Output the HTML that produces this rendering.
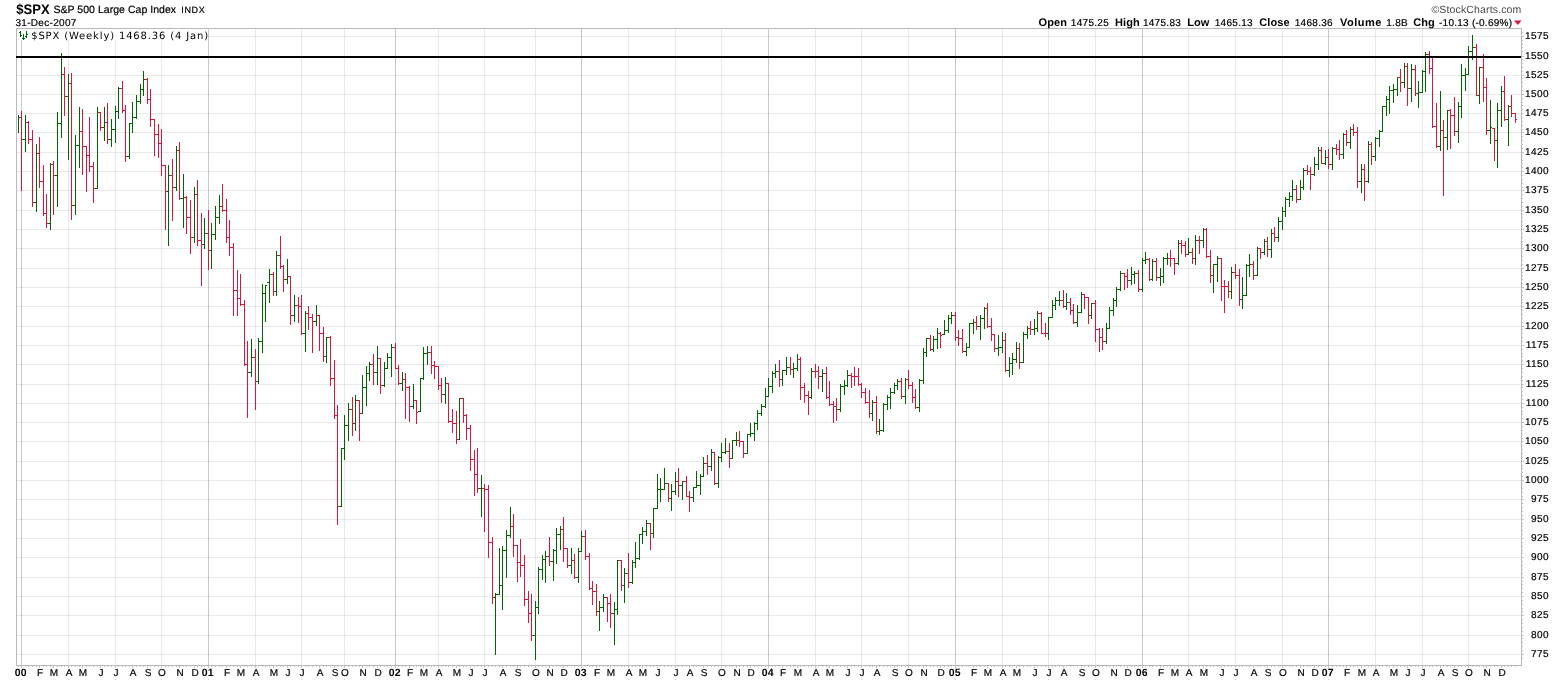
<!DOCTYPE html><html><head><meta charset="utf-8"><title>$SPX S&amp;P 500 Large Cap Index</title><style>html,body{margin:0;padding:0;background:#fff}body{width:1565px;height:681px;position:relative;overflow:hidden}</style></head><body><svg width="1565" height="681" viewBox="0 0 1565 681" style="position:absolute;left:0;top:0" shape-rendering="crispEdges"><rect x="0" y="0" width="1565" height="681" fill="#fff"/><rect x="17" y="654" width="1504" height="1" fill="#000" fill-opacity="0.085"/><rect x="17" y="635" width="1504" height="1" fill="#000" fill-opacity="0.085"/><rect x="17" y="615" width="1504" height="1" fill="#000" fill-opacity="0.085"/><rect x="17" y="596" width="1504" height="1" fill="#000" fill-opacity="0.085"/><rect x="17" y="577" width="1504" height="1" fill="#000" fill-opacity="0.085"/><rect x="17" y="557" width="1504" height="1" fill="#000" fill-opacity="0.085"/><rect x="17" y="538" width="1504" height="1" fill="#000" fill-opacity="0.085"/><rect x="17" y="519" width="1504" height="1" fill="#000" fill-opacity="0.085"/><rect x="17" y="499" width="1504" height="1" fill="#000" fill-opacity="0.085"/><rect x="17" y="480" width="1504" height="1" fill="#000" fill-opacity="0.085"/><rect x="17" y="461" width="1504" height="1" fill="#000" fill-opacity="0.085"/><rect x="17" y="441" width="1504" height="1" fill="#000" fill-opacity="0.085"/><rect x="17" y="422" width="1504" height="1" fill="#000" fill-opacity="0.085"/><rect x="17" y="403" width="1504" height="1" fill="#000" fill-opacity="0.085"/><rect x="17" y="384" width="1504" height="1" fill="#000" fill-opacity="0.085"/><rect x="17" y="364" width="1504" height="1" fill="#000" fill-opacity="0.085"/><rect x="17" y="345" width="1504" height="1" fill="#000" fill-opacity="0.085"/><rect x="17" y="326" width="1504" height="1" fill="#000" fill-opacity="0.085"/><rect x="17" y="306" width="1504" height="1" fill="#000" fill-opacity="0.085"/><rect x="17" y="287" width="1504" height="1" fill="#000" fill-opacity="0.085"/><rect x="17" y="268" width="1504" height="1" fill="#000" fill-opacity="0.085"/><rect x="17" y="248" width="1504" height="1" fill="#000" fill-opacity="0.085"/><rect x="17" y="229" width="1504" height="1" fill="#000" fill-opacity="0.085"/><rect x="17" y="210" width="1504" height="1" fill="#000" fill-opacity="0.085"/><rect x="17" y="190" width="1504" height="1" fill="#000" fill-opacity="0.085"/><rect x="17" y="171" width="1504" height="1" fill="#000" fill-opacity="0.085"/><rect x="17" y="152" width="1504" height="1" fill="#000" fill-opacity="0.085"/><rect x="17" y="132" width="1504" height="1" fill="#000" fill-opacity="0.085"/><rect x="17" y="113" width="1504" height="1" fill="#000" fill-opacity="0.085"/><rect x="17" y="94" width="1504" height="1" fill="#000" fill-opacity="0.085"/><rect x="17" y="75" width="1504" height="1" fill="#000" fill-opacity="0.085"/><rect x="17" y="56" width="1504" height="1" fill="#000" fill-opacity="0.085"/><rect x="17" y="36" width="1504" height="1" fill="#000" fill-opacity="0.085"/><rect x="21" y="29" width="1" height="636" fill="#000" fill-opacity="0.22"/><rect x="21" y="679" width="1" height="1" fill="#d8d8d8"/><rect x="68" y="29" width="1" height="636" fill="#000" fill-opacity="0.085"/><rect x="68" y="679" width="1" height="1" fill="#d8d8d8"/><rect x="115" y="29" width="1" height="636" fill="#000" fill-opacity="0.085"/><rect x="115" y="679" width="1" height="1" fill="#d8d8d8"/><rect x="161" y="29" width="1" height="636" fill="#000" fill-opacity="0.085"/><rect x="161" y="679" width="1" height="1" fill="#d8d8d8"/><rect x="208" y="29" width="1" height="636" fill="#000" fill-opacity="0.22"/><rect x="208" y="679" width="1" height="1" fill="#d8d8d8"/><rect x="255" y="29" width="1" height="636" fill="#000" fill-opacity="0.085"/><rect x="255" y="679" width="1" height="1" fill="#d8d8d8"/><rect x="301" y="29" width="1" height="636" fill="#000" fill-opacity="0.085"/><rect x="301" y="679" width="1" height="1" fill="#d8d8d8"/><rect x="344" y="29" width="1" height="636" fill="#000" fill-opacity="0.085"/><rect x="344" y="679" width="1" height="1" fill="#d8d8d8"/><rect x="395" y="29" width="1" height="636" fill="#000" fill-opacity="0.22"/><rect x="395" y="679" width="1" height="1" fill="#d8d8d8"/><rect x="438" y="29" width="1" height="636" fill="#000" fill-opacity="0.085"/><rect x="438" y="679" width="1" height="1" fill="#d8d8d8"/><rect x="484" y="29" width="1" height="636" fill="#000" fill-opacity="0.085"/><rect x="484" y="679" width="1" height="1" fill="#d8d8d8"/><rect x="535" y="29" width="1" height="636" fill="#000" fill-opacity="0.085"/><rect x="535" y="679" width="1" height="1" fill="#d8d8d8"/><rect x="581" y="29" width="1" height="636" fill="#000" fill-opacity="0.22"/><rect x="581" y="679" width="1" height="1" fill="#d8d8d8"/><rect x="628" y="29" width="1" height="636" fill="#000" fill-opacity="0.085"/><rect x="628" y="679" width="1" height="1" fill="#d8d8d8"/><rect x="675" y="29" width="1" height="636" fill="#000" fill-opacity="0.085"/><rect x="675" y="679" width="1" height="1" fill="#d8d8d8"/><rect x="721" y="29" width="1" height="636" fill="#000" fill-opacity="0.085"/><rect x="721" y="679" width="1" height="1" fill="#d8d8d8"/><rect x="768" y="29" width="1" height="636" fill="#000" fill-opacity="0.22"/><rect x="768" y="679" width="1" height="1" fill="#d8d8d8"/><rect x="815" y="29" width="1" height="636" fill="#000" fill-opacity="0.085"/><rect x="815" y="679" width="1" height="1" fill="#d8d8d8"/><rect x="861" y="29" width="1" height="636" fill="#000" fill-opacity="0.085"/><rect x="861" y="679" width="1" height="1" fill="#d8d8d8"/><rect x="908" y="29" width="1" height="636" fill="#000" fill-opacity="0.085"/><rect x="908" y="679" width="1" height="1" fill="#d8d8d8"/><rect x="955" y="29" width="1" height="636" fill="#000" fill-opacity="0.22"/><rect x="955" y="679" width="1" height="1" fill="#d8d8d8"/><rect x="1002" y="29" width="1" height="636" fill="#000" fill-opacity="0.085"/><rect x="1002" y="679" width="1" height="1" fill="#d8d8d8"/><rect x="1048" y="29" width="1" height="636" fill="#000" fill-opacity="0.085"/><rect x="1048" y="679" width="1" height="1" fill="#d8d8d8"/><rect x="1095" y="29" width="1" height="636" fill="#000" fill-opacity="0.085"/><rect x="1095" y="679" width="1" height="1" fill="#d8d8d8"/><rect x="1142" y="29" width="1" height="636" fill="#000" fill-opacity="0.22"/><rect x="1142" y="679" width="1" height="1" fill="#d8d8d8"/><rect x="1188" y="29" width="1" height="636" fill="#000" fill-opacity="0.085"/><rect x="1188" y="679" width="1" height="1" fill="#d8d8d8"/><rect x="1235" y="29" width="1" height="636" fill="#000" fill-opacity="0.085"/><rect x="1235" y="679" width="1" height="1" fill="#d8d8d8"/><rect x="1282" y="29" width="1" height="636" fill="#000" fill-opacity="0.085"/><rect x="1282" y="679" width="1" height="1" fill="#d8d8d8"/><rect x="1328" y="29" width="1" height="636" fill="#000" fill-opacity="0.22"/><rect x="1328" y="679" width="1" height="1" fill="#d8d8d8"/><rect x="1375" y="29" width="1" height="636" fill="#000" fill-opacity="0.085"/><rect x="1375" y="679" width="1" height="1" fill="#d8d8d8"/><rect x="1422" y="29" width="1" height="636" fill="#000" fill-opacity="0.085"/><rect x="1422" y="679" width="1" height="1" fill="#d8d8d8"/><rect x="1468" y="29" width="1" height="636" fill="#000" fill-opacity="0.085"/><rect x="1468" y="679" width="1" height="1" fill="#d8d8d8"/><rect x="17" y="29" width="191" height="11" fill="#fff"/><rect x="16" y="28" width="1506" height="1" fill="#b8b8b8"/><rect x="16" y="665" width="1506" height="1" fill="#b8b8b8"/><rect x="16" y="28" width="1" height="638" fill="#b8b8b8"/><rect x="1521" y="28" width="1" height="638" fill="#b8b8b8"/><rect x="1522" y="658" width="1" height="1" fill="#c4c4c4"/><rect x="1522" y="654" width="2" height="1" fill="#c4c4c4"/><rect x="1522" y="650" width="1" height="1" fill="#c4c4c4"/><rect x="1522" y="646" width="1" height="1" fill="#c4c4c4"/><rect x="1522" y="642" width="1" height="1" fill="#c4c4c4"/><rect x="1522" y="638" width="1" height="1" fill="#c4c4c4"/><rect x="1522" y="635" width="2" height="1" fill="#c4c4c4"/><rect x="1522" y="631" width="1" height="1" fill="#c4c4c4"/><rect x="1522" y="627" width="1" height="1" fill="#c4c4c4"/><rect x="1522" y="623" width="1" height="1" fill="#c4c4c4"/><rect x="1522" y="619" width="1" height="1" fill="#c4c4c4"/><rect x="1522" y="615" width="2" height="1" fill="#c4c4c4"/><rect x="1522" y="611" width="1" height="1" fill="#c4c4c4"/><rect x="1522" y="608" width="1" height="1" fill="#c4c4c4"/><rect x="1522" y="604" width="1" height="1" fill="#c4c4c4"/><rect x="1522" y="600" width="1" height="1" fill="#c4c4c4"/><rect x="1522" y="596" width="2" height="1" fill="#c4c4c4"/><rect x="1522" y="592" width="1" height="1" fill="#c4c4c4"/><rect x="1522" y="588" width="1" height="1" fill="#c4c4c4"/><rect x="1522" y="584" width="1" height="1" fill="#c4c4c4"/><rect x="1522" y="581" width="1" height="1" fill="#c4c4c4"/><rect x="1522" y="577" width="2" height="1" fill="#c4c4c4"/><rect x="1522" y="573" width="1" height="1" fill="#c4c4c4"/><rect x="1522" y="569" width="1" height="1" fill="#c4c4c4"/><rect x="1522" y="565" width="1" height="1" fill="#c4c4c4"/><rect x="1522" y="561" width="1" height="1" fill="#c4c4c4"/><rect x="1522" y="557" width="2" height="1" fill="#c4c4c4"/><rect x="1522" y="553" width="1" height="1" fill="#c4c4c4"/><rect x="1522" y="550" width="1" height="1" fill="#c4c4c4"/><rect x="1522" y="546" width="1" height="1" fill="#c4c4c4"/><rect x="1522" y="542" width="1" height="1" fill="#c4c4c4"/><rect x="1522" y="538" width="2" height="1" fill="#c4c4c4"/><rect x="1522" y="534" width="1" height="1" fill="#c4c4c4"/><rect x="1522" y="530" width="1" height="1" fill="#c4c4c4"/><rect x="1522" y="526" width="1" height="1" fill="#c4c4c4"/><rect x="1522" y="523" width="1" height="1" fill="#c4c4c4"/><rect x="1522" y="519" width="2" height="1" fill="#c4c4c4"/><rect x="1522" y="515" width="1" height="1" fill="#c4c4c4"/><rect x="1522" y="511" width="1" height="1" fill="#c4c4c4"/><rect x="1522" y="507" width="1" height="1" fill="#c4c4c4"/><rect x="1522" y="503" width="1" height="1" fill="#c4c4c4"/><rect x="1522" y="499" width="2" height="1" fill="#c4c4c4"/><rect x="1522" y="496" width="1" height="1" fill="#c4c4c4"/><rect x="1522" y="492" width="1" height="1" fill="#c4c4c4"/><rect x="1522" y="488" width="1" height="1" fill="#c4c4c4"/><rect x="1522" y="484" width="1" height="1" fill="#c4c4c4"/><rect x="1522" y="480" width="2" height="1" fill="#c4c4c4"/><rect x="1522" y="476" width="1" height="1" fill="#c4c4c4"/><rect x="1522" y="472" width="1" height="1" fill="#c4c4c4"/><rect x="1522" y="468" width="1" height="1" fill="#c4c4c4"/><rect x="1522" y="465" width="1" height="1" fill="#c4c4c4"/><rect x="1522" y="461" width="2" height="1" fill="#c4c4c4"/><rect x="1522" y="457" width="1" height="1" fill="#c4c4c4"/><rect x="1522" y="453" width="1" height="1" fill="#c4c4c4"/><rect x="1522" y="449" width="1" height="1" fill="#c4c4c4"/><rect x="1522" y="445" width="1" height="1" fill="#c4c4c4"/><rect x="1522" y="441" width="2" height="1" fill="#c4c4c4"/><rect x="1522" y="438" width="1" height="1" fill="#c4c4c4"/><rect x="1522" y="434" width="1" height="1" fill="#c4c4c4"/><rect x="1522" y="430" width="1" height="1" fill="#c4c4c4"/><rect x="1522" y="426" width="1" height="1" fill="#c4c4c4"/><rect x="1522" y="422" width="2" height="1" fill="#c4c4c4"/><rect x="1522" y="418" width="1" height="1" fill="#c4c4c4"/><rect x="1522" y="414" width="1" height="1" fill="#c4c4c4"/><rect x="1522" y="411" width="1" height="1" fill="#c4c4c4"/><rect x="1522" y="407" width="1" height="1" fill="#c4c4c4"/><rect x="1522" y="403" width="2" height="1" fill="#c4c4c4"/><rect x="1522" y="399" width="1" height="1" fill="#c4c4c4"/><rect x="1522" y="395" width="1" height="1" fill="#c4c4c4"/><rect x="1522" y="391" width="1" height="1" fill="#c4c4c4"/><rect x="1522" y="387" width="1" height="1" fill="#c4c4c4"/><rect x="1522" y="384" width="2" height="1" fill="#c4c4c4"/><rect x="1522" y="380" width="1" height="1" fill="#c4c4c4"/><rect x="1522" y="376" width="1" height="1" fill="#c4c4c4"/><rect x="1522" y="372" width="1" height="1" fill="#c4c4c4"/><rect x="1522" y="368" width="1" height="1" fill="#c4c4c4"/><rect x="1522" y="364" width="2" height="1" fill="#c4c4c4"/><rect x="1522" y="360" width="1" height="1" fill="#c4c4c4"/><rect x="1522" y="356" width="1" height="1" fill="#c4c4c4"/><rect x="1522" y="353" width="1" height="1" fill="#c4c4c4"/><rect x="1522" y="349" width="1" height="1" fill="#c4c4c4"/><rect x="1522" y="345" width="2" height="1" fill="#c4c4c4"/><rect x="1522" y="341" width="1" height="1" fill="#c4c4c4"/><rect x="1522" y="337" width="1" height="1" fill="#c4c4c4"/><rect x="1522" y="333" width="1" height="1" fill="#c4c4c4"/><rect x="1522" y="329" width="1" height="1" fill="#c4c4c4"/><rect x="1522" y="326" width="2" height="1" fill="#c4c4c4"/><rect x="1522" y="322" width="1" height="1" fill="#c4c4c4"/><rect x="1522" y="318" width="1" height="1" fill="#c4c4c4"/><rect x="1522" y="314" width="1" height="1" fill="#c4c4c4"/><rect x="1522" y="310" width="1" height="1" fill="#c4c4c4"/><rect x="1522" y="306" width="2" height="1" fill="#c4c4c4"/><rect x="1522" y="302" width="1" height="1" fill="#c4c4c4"/><rect x="1522" y="299" width="1" height="1" fill="#c4c4c4"/><rect x="1522" y="295" width="1" height="1" fill="#c4c4c4"/><rect x="1522" y="291" width="1" height="1" fill="#c4c4c4"/><rect x="1522" y="287" width="2" height="1" fill="#c4c4c4"/><rect x="1522" y="283" width="1" height="1" fill="#c4c4c4"/><rect x="1522" y="279" width="1" height="1" fill="#c4c4c4"/><rect x="1522" y="275" width="1" height="1" fill="#c4c4c4"/><rect x="1522" y="272" width="1" height="1" fill="#c4c4c4"/><rect x="1522" y="268" width="2" height="1" fill="#c4c4c4"/><rect x="1522" y="264" width="1" height="1" fill="#c4c4c4"/><rect x="1522" y="260" width="1" height="1" fill="#c4c4c4"/><rect x="1522" y="256" width="1" height="1" fill="#c4c4c4"/><rect x="1522" y="252" width="1" height="1" fill="#c4c4c4"/><rect x="1522" y="248" width="2" height="1" fill="#c4c4c4"/><rect x="1522" y="244" width="1" height="1" fill="#c4c4c4"/><rect x="1522" y="241" width="1" height="1" fill="#c4c4c4"/><rect x="1522" y="237" width="1" height="1" fill="#c4c4c4"/><rect x="1522" y="233" width="1" height="1" fill="#c4c4c4"/><rect x="1522" y="229" width="2" height="1" fill="#c4c4c4"/><rect x="1522" y="225" width="1" height="1" fill="#c4c4c4"/><rect x="1522" y="221" width="1" height="1" fill="#c4c4c4"/><rect x="1522" y="217" width="1" height="1" fill="#c4c4c4"/><rect x="1522" y="214" width="1" height="1" fill="#c4c4c4"/><rect x="1522" y="210" width="2" height="1" fill="#c4c4c4"/><rect x="1522" y="206" width="1" height="1" fill="#c4c4c4"/><rect x="1522" y="202" width="1" height="1" fill="#c4c4c4"/><rect x="1522" y="198" width="1" height="1" fill="#c4c4c4"/><rect x="1522" y="194" width="1" height="1" fill="#c4c4c4"/><rect x="1522" y="190" width="2" height="1" fill="#c4c4c4"/><rect x="1522" y="187" width="1" height="1" fill="#c4c4c4"/><rect x="1522" y="183" width="1" height="1" fill="#c4c4c4"/><rect x="1522" y="179" width="1" height="1" fill="#c4c4c4"/><rect x="1522" y="175" width="1" height="1" fill="#c4c4c4"/><rect x="1522" y="171" width="2" height="1" fill="#c4c4c4"/><rect x="1522" y="167" width="1" height="1" fill="#c4c4c4"/><rect x="1522" y="163" width="1" height="1" fill="#c4c4c4"/><rect x="1522" y="160" width="1" height="1" fill="#c4c4c4"/><rect x="1522" y="156" width="1" height="1" fill="#c4c4c4"/><rect x="1522" y="152" width="2" height="1" fill="#c4c4c4"/><rect x="1522" y="148" width="1" height="1" fill="#c4c4c4"/><rect x="1522" y="144" width="1" height="1" fill="#c4c4c4"/><rect x="1522" y="140" width="1" height="1" fill="#c4c4c4"/><rect x="1522" y="136" width="1" height="1" fill="#c4c4c4"/><rect x="1522" y="132" width="2" height="1" fill="#c4c4c4"/><rect x="1522" y="129" width="1" height="1" fill="#c4c4c4"/><rect x="1522" y="125" width="1" height="1" fill="#c4c4c4"/><rect x="1522" y="121" width="1" height="1" fill="#c4c4c4"/><rect x="1522" y="117" width="1" height="1" fill="#c4c4c4"/><rect x="1522" y="113" width="2" height="1" fill="#c4c4c4"/><rect x="1522" y="109" width="1" height="1" fill="#c4c4c4"/><rect x="1522" y="105" width="1" height="1" fill="#c4c4c4"/><rect x="1522" y="102" width="1" height="1" fill="#c4c4c4"/><rect x="1522" y="98" width="1" height="1" fill="#c4c4c4"/><rect x="1522" y="94" width="2" height="1" fill="#c4c4c4"/><rect x="1522" y="90" width="1" height="1" fill="#c4c4c4"/><rect x="1522" y="86" width="1" height="1" fill="#c4c4c4"/><rect x="1522" y="82" width="1" height="1" fill="#c4c4c4"/><rect x="1522" y="78" width="1" height="1" fill="#c4c4c4"/><rect x="1522" y="75" width="2" height="1" fill="#c4c4c4"/><rect x="1522" y="71" width="1" height="1" fill="#c4c4c4"/><rect x="1522" y="67" width="1" height="1" fill="#c4c4c4"/><rect x="1522" y="63" width="1" height="1" fill="#c4c4c4"/><rect x="1522" y="59" width="1" height="1" fill="#c4c4c4"/><rect x="1522" y="56" width="2" height="1" fill="#c4c4c4"/><rect x="1522" y="51" width="1" height="1" fill="#c4c4c4"/><rect x="1522" y="47" width="1" height="1" fill="#c4c4c4"/><rect x="1522" y="44" width="1" height="1" fill="#c4c4c4"/><rect x="1522" y="40" width="1" height="1" fill="#c4c4c4"/><rect x="1522" y="36" width="2" height="1" fill="#c4c4c4"/><rect x="1522" y="32" width="1" height="1" fill="#c4c4c4"/><rect x="18" y="666" width="1" height="1" fill="#c4c4c4"/><rect x="21" y="666" width="1" height="2" fill="#c4c4c4"/><rect x="25" y="666" width="1" height="1" fill="#c4c4c4"/><rect x="28" y="666" width="1" height="1" fill="#c4c4c4"/><rect x="32" y="666" width="1" height="1" fill="#c4c4c4"/><rect x="36" y="666" width="1" height="1" fill="#c4c4c4"/><rect x="39" y="666" width="1" height="2" fill="#c4c4c4"/><rect x="43" y="666" width="1" height="1" fill="#c4c4c4"/><rect x="46" y="666" width="1" height="1" fill="#c4c4c4"/><rect x="50" y="666" width="1" height="1" fill="#c4c4c4"/><rect x="53" y="666" width="1" height="2" fill="#c4c4c4"/><rect x="57" y="666" width="1" height="1" fill="#c4c4c4"/><rect x="61" y="666" width="1" height="1" fill="#c4c4c4"/><rect x="64" y="666" width="1" height="1" fill="#c4c4c4"/><rect x="68" y="666" width="1" height="2" fill="#c4c4c4"/><rect x="71" y="666" width="1" height="1" fill="#c4c4c4"/><rect x="75" y="666" width="1" height="1" fill="#c4c4c4"/><rect x="79" y="666" width="1" height="1" fill="#c4c4c4"/><rect x="82" y="666" width="1" height="2" fill="#c4c4c4"/><rect x="86" y="666" width="1" height="1" fill="#c4c4c4"/><rect x="89" y="666" width="1" height="1" fill="#c4c4c4"/><rect x="93" y="666" width="1" height="1" fill="#c4c4c4"/><rect x="97" y="666" width="1" height="1" fill="#c4c4c4"/><rect x="100" y="666" width="1" height="2" fill="#c4c4c4"/><rect x="104" y="666" width="1" height="1" fill="#c4c4c4"/><rect x="107" y="666" width="1" height="1" fill="#c4c4c4"/><rect x="111" y="666" width="1" height="1" fill="#c4c4c4"/><rect x="115" y="666" width="1" height="2" fill="#c4c4c4"/><rect x="118" y="666" width="1" height="1" fill="#c4c4c4"/><rect x="122" y="666" width="1" height="1" fill="#c4c4c4"/><rect x="125" y="666" width="1" height="1" fill="#c4c4c4"/><rect x="129" y="666" width="1" height="1" fill="#c4c4c4"/><rect x="132" y="666" width="1" height="2" fill="#c4c4c4"/><rect x="136" y="666" width="1" height="1" fill="#c4c4c4"/><rect x="140" y="666" width="1" height="1" fill="#c4c4c4"/><rect x="143" y="666" width="1" height="1" fill="#c4c4c4"/><rect x="147" y="666" width="1" height="2" fill="#c4c4c4"/><rect x="150" y="666" width="1" height="1" fill="#c4c4c4"/><rect x="154" y="666" width="1" height="1" fill="#c4c4c4"/><rect x="158" y="666" width="1" height="1" fill="#c4c4c4"/><rect x="161" y="666" width="1" height="2" fill="#c4c4c4"/><rect x="165" y="666" width="1" height="1" fill="#c4c4c4"/><rect x="168" y="666" width="1" height="1" fill="#c4c4c4"/><rect x="172" y="666" width="1" height="1" fill="#c4c4c4"/><rect x="176" y="666" width="1" height="1" fill="#c4c4c4"/><rect x="179" y="666" width="1" height="2" fill="#c4c4c4"/><rect x="183" y="666" width="1" height="1" fill="#c4c4c4"/><rect x="186" y="666" width="1" height="1" fill="#c4c4c4"/><rect x="190" y="666" width="1" height="1" fill="#c4c4c4"/><rect x="194" y="666" width="1" height="2" fill="#c4c4c4"/><rect x="197" y="666" width="1" height="1" fill="#c4c4c4"/><rect x="201" y="666" width="1" height="1" fill="#c4c4c4"/><rect x="204" y="666" width="1" height="1" fill="#c4c4c4"/><rect x="208" y="666" width="1" height="2" fill="#c4c4c4"/><rect x="211" y="666" width="1" height="1" fill="#c4c4c4"/><rect x="215" y="666" width="1" height="1" fill="#c4c4c4"/><rect x="219" y="666" width="1" height="1" fill="#c4c4c4"/><rect x="222" y="666" width="1" height="1" fill="#c4c4c4"/><rect x="226" y="666" width="1" height="2" fill="#c4c4c4"/><rect x="229" y="666" width="1" height="1" fill="#c4c4c4"/><rect x="233" y="666" width="1" height="1" fill="#c4c4c4"/><rect x="237" y="666" width="1" height="1" fill="#c4c4c4"/><rect x="240" y="666" width="1" height="2" fill="#c4c4c4"/><rect x="244" y="666" width="1" height="1" fill="#c4c4c4"/><rect x="247" y="666" width="1" height="1" fill="#c4c4c4"/><rect x="251" y="666" width="1" height="1" fill="#c4c4c4"/><rect x="255" y="666" width="1" height="2" fill="#c4c4c4"/><rect x="258" y="666" width="1" height="1" fill="#c4c4c4"/><rect x="262" y="666" width="1" height="1" fill="#c4c4c4"/><rect x="265" y="666" width="1" height="1" fill="#c4c4c4"/><rect x="269" y="666" width="1" height="1" fill="#c4c4c4"/><rect x="273" y="666" width="1" height="2" fill="#c4c4c4"/><rect x="276" y="666" width="1" height="1" fill="#c4c4c4"/><rect x="280" y="666" width="1" height="1" fill="#c4c4c4"/><rect x="283" y="666" width="1" height="1" fill="#c4c4c4"/><rect x="287" y="666" width="1" height="2" fill="#c4c4c4"/><rect x="290" y="666" width="1" height="1" fill="#c4c4c4"/><rect x="294" y="666" width="1" height="1" fill="#c4c4c4"/><rect x="298" y="666" width="1" height="1" fill="#c4c4c4"/><rect x="301" y="666" width="1" height="2" fill="#c4c4c4"/><rect x="305" y="666" width="1" height="1" fill="#c4c4c4"/><rect x="308" y="666" width="1" height="1" fill="#c4c4c4"/><rect x="312" y="666" width="1" height="1" fill="#c4c4c4"/><rect x="316" y="666" width="1" height="1" fill="#c4c4c4"/><rect x="319" y="666" width="1" height="2" fill="#c4c4c4"/><rect x="323" y="666" width="1" height="1" fill="#c4c4c4"/><rect x="326" y="666" width="1" height="1" fill="#c4c4c4"/><rect x="330" y="666" width="1" height="1" fill="#c4c4c4"/><rect x="334" y="666" width="1" height="2" fill="#c4c4c4"/><rect x="337" y="666" width="1" height="1" fill="#c4c4c4"/><rect x="341" y="666" width="1" height="1" fill="#c4c4c4"/><rect x="344" y="666" width="1" height="2" fill="#c4c4c4"/><rect x="348" y="666" width="1" height="1" fill="#c4c4c4"/><rect x="352" y="666" width="1" height="1" fill="#c4c4c4"/><rect x="355" y="666" width="1" height="1" fill="#c4c4c4"/><rect x="359" y="666" width="1" height="1" fill="#c4c4c4"/><rect x="362" y="666" width="1" height="2" fill="#c4c4c4"/><rect x="366" y="666" width="1" height="1" fill="#c4c4c4"/><rect x="369" y="666" width="1" height="1" fill="#c4c4c4"/><rect x="373" y="666" width="1" height="1" fill="#c4c4c4"/><rect x="377" y="666" width="1" height="2" fill="#c4c4c4"/><rect x="380" y="666" width="1" height="1" fill="#c4c4c4"/><rect x="384" y="666" width="1" height="1" fill="#c4c4c4"/><rect x="387" y="666" width="1" height="1" fill="#c4c4c4"/><rect x="391" y="666" width="1" height="1" fill="#c4c4c4"/><rect x="395" y="666" width="1" height="2" fill="#c4c4c4"/><rect x="398" y="666" width="1" height="1" fill="#c4c4c4"/><rect x="402" y="666" width="1" height="1" fill="#c4c4c4"/><rect x="405" y="666" width="1" height="1" fill="#c4c4c4"/><rect x="409" y="666" width="1" height="2" fill="#c4c4c4"/><rect x="413" y="666" width="1" height="1" fill="#c4c4c4"/><rect x="416" y="666" width="1" height="1" fill="#c4c4c4"/><rect x="420" y="666" width="1" height="1" fill="#c4c4c4"/><rect x="423" y="666" width="1" height="2" fill="#c4c4c4"/><rect x="427" y="666" width="1" height="1" fill="#c4c4c4"/><rect x="431" y="666" width="1" height="1" fill="#c4c4c4"/><rect x="434" y="666" width="1" height="1" fill="#c4c4c4"/><rect x="438" y="666" width="1" height="2" fill="#c4c4c4"/><rect x="441" y="666" width="1" height="1" fill="#c4c4c4"/><rect x="445" y="666" width="1" height="1" fill="#c4c4c4"/><rect x="448" y="666" width="1" height="1" fill="#c4c4c4"/><rect x="452" y="666" width="1" height="1" fill="#c4c4c4"/><rect x="456" y="666" width="1" height="2" fill="#c4c4c4"/><rect x="459" y="666" width="1" height="1" fill="#c4c4c4"/><rect x="463" y="666" width="1" height="1" fill="#c4c4c4"/><rect x="466" y="666" width="1" height="1" fill="#c4c4c4"/><rect x="470" y="666" width="1" height="2" fill="#c4c4c4"/><rect x="474" y="666" width="1" height="1" fill="#c4c4c4"/><rect x="477" y="666" width="1" height="1" fill="#c4c4c4"/><rect x="481" y="666" width="1" height="1" fill="#c4c4c4"/><rect x="484" y="666" width="1" height="2" fill="#c4c4c4"/><rect x="488" y="666" width="1" height="1" fill="#c4c4c4"/><rect x="492" y="666" width="1" height="1" fill="#c4c4c4"/><rect x="495" y="666" width="1" height="1" fill="#c4c4c4"/><rect x="499" y="666" width="1" height="1" fill="#c4c4c4"/><rect x="502" y="666" width="1" height="2" fill="#c4c4c4"/><rect x="506" y="666" width="1" height="1" fill="#c4c4c4"/><rect x="510" y="666" width="1" height="1" fill="#c4c4c4"/><rect x="513" y="666" width="1" height="1" fill="#c4c4c4"/><rect x="517" y="666" width="1" height="2" fill="#c4c4c4"/><rect x="520" y="666" width="1" height="1" fill="#c4c4c4"/><rect x="524" y="666" width="1" height="1" fill="#c4c4c4"/><rect x="528" y="666" width="1" height="1" fill="#c4c4c4"/><rect x="531" y="666" width="1" height="1" fill="#c4c4c4"/><rect x="535" y="666" width="1" height="2" fill="#c4c4c4"/><rect x="538" y="666" width="1" height="1" fill="#c4c4c4"/><rect x="542" y="666" width="1" height="1" fill="#c4c4c4"/><rect x="545" y="666" width="1" height="1" fill="#c4c4c4"/><rect x="549" y="666" width="1" height="2" fill="#c4c4c4"/><rect x="553" y="666" width="1" height="1" fill="#c4c4c4"/><rect x="556" y="666" width="1" height="1" fill="#c4c4c4"/><rect x="560" y="666" width="1" height="1" fill="#c4c4c4"/><rect x="563" y="666" width="1" height="2" fill="#c4c4c4"/><rect x="567" y="666" width="1" height="1" fill="#c4c4c4"/><rect x="571" y="666" width="1" height="1" fill="#c4c4c4"/><rect x="574" y="666" width="1" height="1" fill="#c4c4c4"/><rect x="578" y="666" width="1" height="1" fill="#c4c4c4"/><rect x="581" y="666" width="1" height="2" fill="#c4c4c4"/><rect x="585" y="666" width="1" height="1" fill="#c4c4c4"/><rect x="589" y="666" width="1" height="1" fill="#c4c4c4"/><rect x="592" y="666" width="1" height="1" fill="#c4c4c4"/><rect x="596" y="666" width="1" height="2" fill="#c4c4c4"/><rect x="599" y="666" width="1" height="1" fill="#c4c4c4"/><rect x="603" y="666" width="1" height="1" fill="#c4c4c4"/><rect x="607" y="666" width="1" height="1" fill="#c4c4c4"/><rect x="610" y="666" width="1" height="2" fill="#c4c4c4"/><rect x="614" y="666" width="1" height="1" fill="#c4c4c4"/><rect x="617" y="666" width="1" height="1" fill="#c4c4c4"/><rect x="621" y="666" width="1" height="1" fill="#c4c4c4"/><rect x="624" y="666" width="1" height="1" fill="#c4c4c4"/><rect x="628" y="666" width="1" height="2" fill="#c4c4c4"/><rect x="632" y="666" width="1" height="1" fill="#c4c4c4"/><rect x="635" y="666" width="1" height="1" fill="#c4c4c4"/><rect x="639" y="666" width="1" height="1" fill="#c4c4c4"/><rect x="642" y="666" width="1" height="2" fill="#c4c4c4"/><rect x="646" y="666" width="1" height="1" fill="#c4c4c4"/><rect x="650" y="666" width="1" height="1" fill="#c4c4c4"/><rect x="653" y="666" width="1" height="1" fill="#c4c4c4"/><rect x="657" y="666" width="1" height="2" fill="#c4c4c4"/><rect x="660" y="666" width="1" height="1" fill="#c4c4c4"/><rect x="664" y="666" width="1" height="1" fill="#c4c4c4"/><rect x="668" y="666" width="1" height="1" fill="#c4c4c4"/><rect x="671" y="666" width="1" height="1" fill="#c4c4c4"/><rect x="675" y="666" width="1" height="2" fill="#c4c4c4"/><rect x="678" y="666" width="1" height="1" fill="#c4c4c4"/><rect x="682" y="666" width="1" height="1" fill="#c4c4c4"/><rect x="686" y="666" width="1" height="1" fill="#c4c4c4"/><rect x="689" y="666" width="1" height="2" fill="#c4c4c4"/><rect x="693" y="666" width="1" height="1" fill="#c4c4c4"/><rect x="696" y="666" width="1" height="1" fill="#c4c4c4"/><rect x="700" y="666" width="1" height="1" fill="#c4c4c4"/><rect x="703" y="666" width="1" height="2" fill="#c4c4c4"/><rect x="707" y="666" width="1" height="1" fill="#c4c4c4"/><rect x="711" y="666" width="1" height="1" fill="#c4c4c4"/><rect x="714" y="666" width="1" height="1" fill="#c4c4c4"/><rect x="718" y="666" width="1" height="1" fill="#c4c4c4"/><rect x="721" y="666" width="1" height="2" fill="#c4c4c4"/><rect x="725" y="666" width="1" height="1" fill="#c4c4c4"/><rect x="729" y="666" width="1" height="1" fill="#c4c4c4"/><rect x="732" y="666" width="1" height="1" fill="#c4c4c4"/><rect x="736" y="666" width="1" height="2" fill="#c4c4c4"/><rect x="739" y="666" width="1" height="1" fill="#c4c4c4"/><rect x="743" y="666" width="1" height="1" fill="#c4c4c4"/><rect x="747" y="666" width="1" height="1" fill="#c4c4c4"/><rect x="750" y="666" width="1" height="2" fill="#c4c4c4"/><rect x="754" y="666" width="1" height="1" fill="#c4c4c4"/><rect x="757" y="666" width="1" height="1" fill="#c4c4c4"/><rect x="761" y="666" width="1" height="1" fill="#c4c4c4"/><rect x="765" y="666" width="1" height="1" fill="#c4c4c4"/><rect x="768" y="666" width="1" height="2" fill="#c4c4c4"/><rect x="772" y="666" width="1" height="1" fill="#c4c4c4"/><rect x="775" y="666" width="1" height="1" fill="#c4c4c4"/><rect x="779" y="666" width="1" height="1" fill="#c4c4c4"/><rect x="782" y="666" width="1" height="2" fill="#c4c4c4"/><rect x="786" y="666" width="1" height="1" fill="#c4c4c4"/><rect x="790" y="666" width="1" height="1" fill="#c4c4c4"/><rect x="793" y="666" width="1" height="1" fill="#c4c4c4"/><rect x="797" y="666" width="1" height="2" fill="#c4c4c4"/><rect x="800" y="666" width="1" height="1" fill="#c4c4c4"/><rect x="804" y="666" width="1" height="1" fill="#c4c4c4"/><rect x="808" y="666" width="1" height="1" fill="#c4c4c4"/><rect x="811" y="666" width="1" height="1" fill="#c4c4c4"/><rect x="815" y="666" width="1" height="2" fill="#c4c4c4"/><rect x="818" y="666" width="1" height="1" fill="#c4c4c4"/><rect x="822" y="666" width="1" height="1" fill="#c4c4c4"/><rect x="826" y="666" width="1" height="1" fill="#c4c4c4"/><rect x="829" y="666" width="1" height="2" fill="#c4c4c4"/><rect x="833" y="666" width="1" height="1" fill="#c4c4c4"/><rect x="836" y="666" width="1" height="1" fill="#c4c4c4"/><rect x="840" y="666" width="1" height="1" fill="#c4c4c4"/><rect x="844" y="666" width="1" height="1" fill="#c4c4c4"/><rect x="847" y="666" width="1" height="2" fill="#c4c4c4"/><rect x="851" y="666" width="1" height="1" fill="#c4c4c4"/><rect x="854" y="666" width="1" height="1" fill="#c4c4c4"/><rect x="858" y="666" width="1" height="1" fill="#c4c4c4"/><rect x="861" y="666" width="1" height="2" fill="#c4c4c4"/><rect x="865" y="666" width="1" height="1" fill="#c4c4c4"/><rect x="869" y="666" width="1" height="1" fill="#c4c4c4"/><rect x="872" y="666" width="1" height="1" fill="#c4c4c4"/><rect x="876" y="666" width="1" height="2" fill="#c4c4c4"/><rect x="879" y="666" width="1" height="1" fill="#c4c4c4"/><rect x="883" y="666" width="1" height="1" fill="#c4c4c4"/><rect x="887" y="666" width="1" height="1" fill="#c4c4c4"/><rect x="890" y="666" width="1" height="1" fill="#c4c4c4"/><rect x="894" y="666" width="1" height="2" fill="#c4c4c4"/><rect x="897" y="666" width="1" height="1" fill="#c4c4c4"/><rect x="901" y="666" width="1" height="1" fill="#c4c4c4"/><rect x="905" y="666" width="1" height="1" fill="#c4c4c4"/><rect x="908" y="666" width="1" height="2" fill="#c4c4c4"/><rect x="912" y="666" width="1" height="1" fill="#c4c4c4"/><rect x="915" y="666" width="1" height="1" fill="#c4c4c4"/><rect x="919" y="666" width="1" height="1" fill="#c4c4c4"/><rect x="923" y="666" width="1" height="2" fill="#c4c4c4"/><rect x="926" y="666" width="1" height="1" fill="#c4c4c4"/><rect x="930" y="666" width="1" height="1" fill="#c4c4c4"/><rect x="933" y="666" width="1" height="1" fill="#c4c4c4"/><rect x="937" y="666" width="1" height="1" fill="#c4c4c4"/><rect x="940" y="666" width="1" height="2" fill="#c4c4c4"/><rect x="944" y="666" width="1" height="1" fill="#c4c4c4"/><rect x="948" y="666" width="1" height="1" fill="#c4c4c4"/><rect x="951" y="666" width="1" height="1" fill="#c4c4c4"/><rect x="955" y="666" width="1" height="2" fill="#c4c4c4"/><rect x="958" y="666" width="1" height="1" fill="#c4c4c4"/><rect x="962" y="666" width="1" height="1" fill="#c4c4c4"/><rect x="966" y="666" width="1" height="1" fill="#c4c4c4"/><rect x="969" y="666" width="1" height="1" fill="#c4c4c4"/><rect x="973" y="666" width="1" height="2" fill="#c4c4c4"/><rect x="976" y="666" width="1" height="1" fill="#c4c4c4"/><rect x="980" y="666" width="1" height="1" fill="#c4c4c4"/><rect x="984" y="666" width="1" height="1" fill="#c4c4c4"/><rect x="987" y="666" width="1" height="2" fill="#c4c4c4"/><rect x="991" y="666" width="1" height="1" fill="#c4c4c4"/><rect x="994" y="666" width="1" height="1" fill="#c4c4c4"/><rect x="998" y="666" width="1" height="1" fill="#c4c4c4"/><rect x="1002" y="666" width="1" height="2" fill="#c4c4c4"/><rect x="1005" y="666" width="1" height="1" fill="#c4c4c4"/><rect x="1009" y="666" width="1" height="1" fill="#c4c4c4"/><rect x="1012" y="666" width="1" height="1" fill="#c4c4c4"/><rect x="1016" y="666" width="1" height="2" fill="#c4c4c4"/><rect x="1019" y="666" width="1" height="1" fill="#c4c4c4"/><rect x="1023" y="666" width="1" height="1" fill="#c4c4c4"/><rect x="1027" y="666" width="1" height="1" fill="#c4c4c4"/><rect x="1030" y="666" width="1" height="1" fill="#c4c4c4"/><rect x="1034" y="666" width="1" height="2" fill="#c4c4c4"/><rect x="1037" y="666" width="1" height="1" fill="#c4c4c4"/><rect x="1041" y="666" width="1" height="1" fill="#c4c4c4"/><rect x="1045" y="666" width="1" height="1" fill="#c4c4c4"/><rect x="1048" y="666" width="1" height="2" fill="#c4c4c4"/><rect x="1052" y="666" width="1" height="1" fill="#c4c4c4"/><rect x="1055" y="666" width="1" height="1" fill="#c4c4c4"/><rect x="1059" y="666" width="1" height="1" fill="#c4c4c4"/><rect x="1063" y="666" width="1" height="2" fill="#c4c4c4"/><rect x="1066" y="666" width="1" height="1" fill="#c4c4c4"/><rect x="1070" y="666" width="1" height="1" fill="#c4c4c4"/><rect x="1073" y="666" width="1" height="1" fill="#c4c4c4"/><rect x="1077" y="666" width="1" height="1" fill="#c4c4c4"/><rect x="1081" y="666" width="1" height="2" fill="#c4c4c4"/><rect x="1084" y="666" width="1" height="1" fill="#c4c4c4"/><rect x="1088" y="666" width="1" height="1" fill="#c4c4c4"/><rect x="1091" y="666" width="1" height="1" fill="#c4c4c4"/><rect x="1095" y="666" width="1" height="2" fill="#c4c4c4"/><rect x="1099" y="666" width="1" height="1" fill="#c4c4c4"/><rect x="1102" y="666" width="1" height="1" fill="#c4c4c4"/><rect x="1106" y="666" width="1" height="1" fill="#c4c4c4"/><rect x="1109" y="666" width="1" height="1" fill="#c4c4c4"/><rect x="1113" y="666" width="1" height="2" fill="#c4c4c4"/><rect x="1116" y="666" width="1" height="1" fill="#c4c4c4"/><rect x="1120" y="666" width="1" height="1" fill="#c4c4c4"/><rect x="1124" y="666" width="1" height="1" fill="#c4c4c4"/><rect x="1127" y="666" width="1" height="2" fill="#c4c4c4"/><rect x="1131" y="666" width="1" height="1" fill="#c4c4c4"/><rect x="1134" y="666" width="1" height="1" fill="#c4c4c4"/><rect x="1138" y="666" width="1" height="1" fill="#c4c4c4"/><rect x="1142" y="666" width="1" height="2" fill="#c4c4c4"/><rect x="1145" y="666" width="1" height="1" fill="#c4c4c4"/><rect x="1149" y="666" width="1" height="1" fill="#c4c4c4"/><rect x="1152" y="666" width="1" height="1" fill="#c4c4c4"/><rect x="1156" y="666" width="1" height="1" fill="#c4c4c4"/><rect x="1160" y="666" width="1" height="2" fill="#c4c4c4"/><rect x="1163" y="666" width="1" height="1" fill="#c4c4c4"/><rect x="1167" y="666" width="1" height="1" fill="#c4c4c4"/><rect x="1170" y="666" width="1" height="1" fill="#c4c4c4"/><rect x="1174" y="666" width="1" height="2" fill="#c4c4c4"/><rect x="1178" y="666" width="1" height="1" fill="#c4c4c4"/><rect x="1181" y="666" width="1" height="1" fill="#c4c4c4"/><rect x="1185" y="666" width="1" height="1" fill="#c4c4c4"/><rect x="1188" y="666" width="1" height="2" fill="#c4c4c4"/><rect x="1192" y="666" width="1" height="1" fill="#c4c4c4"/><rect x="1195" y="666" width="1" height="1" fill="#c4c4c4"/><rect x="1199" y="666" width="1" height="1" fill="#c4c4c4"/><rect x="1203" y="666" width="1" height="2" fill="#c4c4c4"/><rect x="1206" y="666" width="1" height="1" fill="#c4c4c4"/><rect x="1210" y="666" width="1" height="1" fill="#c4c4c4"/><rect x="1213" y="666" width="1" height="1" fill="#c4c4c4"/><rect x="1217" y="666" width="1" height="1" fill="#c4c4c4"/><rect x="1221" y="666" width="1" height="2" fill="#c4c4c4"/><rect x="1224" y="666" width="1" height="1" fill="#c4c4c4"/><rect x="1228" y="666" width="1" height="1" fill="#c4c4c4"/><rect x="1231" y="666" width="1" height="1" fill="#c4c4c4"/><rect x="1235" y="666" width="1" height="2" fill="#c4c4c4"/><rect x="1239" y="666" width="1" height="1" fill="#c4c4c4"/><rect x="1242" y="666" width="1" height="1" fill="#c4c4c4"/><rect x="1246" y="666" width="1" height="1" fill="#c4c4c4"/><rect x="1249" y="666" width="1" height="1" fill="#c4c4c4"/><rect x="1253" y="666" width="1" height="2" fill="#c4c4c4"/><rect x="1257" y="666" width="1" height="1" fill="#c4c4c4"/><rect x="1260" y="666" width="1" height="1" fill="#c4c4c4"/><rect x="1264" y="666" width="1" height="1" fill="#c4c4c4"/><rect x="1267" y="666" width="1" height="2" fill="#c4c4c4"/><rect x="1271" y="666" width="1" height="1" fill="#c4c4c4"/><rect x="1274" y="666" width="1" height="1" fill="#c4c4c4"/><rect x="1278" y="666" width="1" height="1" fill="#c4c4c4"/><rect x="1282" y="666" width="1" height="2" fill="#c4c4c4"/><rect x="1285" y="666" width="1" height="1" fill="#c4c4c4"/><rect x="1289" y="666" width="1" height="1" fill="#c4c4c4"/><rect x="1292" y="666" width="1" height="1" fill="#c4c4c4"/><rect x="1296" y="666" width="1" height="1" fill="#c4c4c4"/><rect x="1300" y="666" width="1" height="2" fill="#c4c4c4"/><rect x="1303" y="666" width="1" height="1" fill="#c4c4c4"/><rect x="1307" y="666" width="1" height="1" fill="#c4c4c4"/><rect x="1310" y="666" width="1" height="1" fill="#c4c4c4"/><rect x="1314" y="666" width="1" height="2" fill="#c4c4c4"/><rect x="1318" y="666" width="1" height="1" fill="#c4c4c4"/><rect x="1321" y="666" width="1" height="1" fill="#c4c4c4"/><rect x="1325" y="666" width="1" height="1" fill="#c4c4c4"/><rect x="1328" y="666" width="1" height="2" fill="#c4c4c4"/><rect x="1332" y="666" width="1" height="1" fill="#c4c4c4"/><rect x="1336" y="666" width="1" height="1" fill="#c4c4c4"/><rect x="1339" y="666" width="1" height="1" fill="#c4c4c4"/><rect x="1343" y="666" width="1" height="1" fill="#c4c4c4"/><rect x="1346" y="666" width="1" height="2" fill="#c4c4c4"/><rect x="1350" y="666" width="1" height="1" fill="#c4c4c4"/><rect x="1353" y="666" width="1" height="1" fill="#c4c4c4"/><rect x="1357" y="666" width="1" height="1" fill="#c4c4c4"/><rect x="1361" y="666" width="1" height="2" fill="#c4c4c4"/><rect x="1364" y="666" width="1" height="1" fill="#c4c4c4"/><rect x="1368" y="666" width="1" height="1" fill="#c4c4c4"/><rect x="1371" y="666" width="1" height="1" fill="#c4c4c4"/><rect x="1375" y="666" width="1" height="2" fill="#c4c4c4"/><rect x="1379" y="666" width="1" height="1" fill="#c4c4c4"/><rect x="1382" y="666" width="1" height="1" fill="#c4c4c4"/><rect x="1386" y="666" width="1" height="1" fill="#c4c4c4"/><rect x="1389" y="666" width="1" height="1" fill="#c4c4c4"/><rect x="1393" y="666" width="1" height="2" fill="#c4c4c4"/><rect x="1397" y="666" width="1" height="1" fill="#c4c4c4"/><rect x="1400" y="666" width="1" height="1" fill="#c4c4c4"/><rect x="1404" y="666" width="1" height="1" fill="#c4c4c4"/><rect x="1407" y="666" width="1" height="2" fill="#c4c4c4"/><rect x="1411" y="666" width="1" height="1" fill="#c4c4c4"/><rect x="1415" y="666" width="1" height="1" fill="#c4c4c4"/><rect x="1418" y="666" width="1" height="1" fill="#c4c4c4"/><rect x="1422" y="666" width="1" height="2" fill="#c4c4c4"/><rect x="1425" y="666" width="1" height="1" fill="#c4c4c4"/><rect x="1429" y="666" width="1" height="1" fill="#c4c4c4"/><rect x="1432" y="666" width="1" height="1" fill="#c4c4c4"/><rect x="1436" y="666" width="1" height="1" fill="#c4c4c4"/><rect x="1440" y="666" width="1" height="2" fill="#c4c4c4"/><rect x="1443" y="666" width="1" height="1" fill="#c4c4c4"/><rect x="1447" y="666" width="1" height="1" fill="#c4c4c4"/><rect x="1450" y="666" width="1" height="1" fill="#c4c4c4"/><rect x="1454" y="666" width="1" height="2" fill="#c4c4c4"/><rect x="1458" y="666" width="1" height="1" fill="#c4c4c4"/><rect x="1461" y="666" width="1" height="1" fill="#c4c4c4"/><rect x="1465" y="666" width="1" height="1" fill="#c4c4c4"/><rect x="1468" y="666" width="1" height="2" fill="#c4c4c4"/><rect x="1472" y="666" width="1" height="1" fill="#c4c4c4"/><rect x="1476" y="666" width="1" height="1" fill="#c4c4c4"/><rect x="1479" y="666" width="1" height="1" fill="#c4c4c4"/><rect x="1483" y="666" width="1" height="1" fill="#c4c4c4"/><rect x="1486" y="666" width="1" height="2" fill="#c4c4c4"/><rect x="1490" y="666" width="1" height="1" fill="#c4c4c4"/><rect x="1494" y="666" width="1" height="1" fill="#c4c4c4"/><rect x="1497" y="666" width="1" height="1" fill="#c4c4c4"/><rect x="1501" y="666" width="1" height="2" fill="#c4c4c4"/><rect x="1504" y="666" width="1" height="1" fill="#c4c4c4"/><rect x="1508" y="666" width="1" height="1" fill="#c4c4c4"/><rect x="1511" y="666" width="1" height="1" fill="#c4c4c4"/><rect x="1515" y="666" width="1" height="1" fill="#c4c4c4"/><path fill="#006400" d="M18 115h1v18h-1zM19 117h1v1h-1zM25 115h1v37h-1zM26 122h1v1h-1zM23 139h2v1h-2zM36 144h1v68h-1zM37 153h1v1h-1zM34 202h2v1h-2zM50 163h1v67h-1zM51 164h1v1h-1zM48 223h2v1h-2zM57 112h1v95h-1zM58 123h1v1h-1zM55 175h2v1h-2zM61 53h1v85h-1zM62 74h1v1h-1zM59 123h2v1h-2zM68 74h1v86h-1zM69 83h1v1h-1zM66 96h2v1h-2zM75 135h1v80h-1zM76 145h1v1h-1zM73 205h2v1h-2zM79 107h1v61h-1zM80 131h1v1h-1zM77 145h2v1h-2zM97 107h1v82h-1zM98 112h1v1h-1zM95 188h2v1h-2zM104 107h1v34h-1zM105 122h1v1h-1zM102 127h2v1h-2zM111 119h1v28h-1zM112 129h1v1h-1zM109 139h2v1h-2zM115 106h1v37h-1zM116 111h1v1h-1zM113 129h2v1h-2zM118 87h1v32h-1zM119 88h1v1h-1zM116 111h2v1h-2zM129 123h1v36h-1zM130 123h1v1h-1zM127 156h2v1h-2zM132 102h1v31h-1zM133 117h1v1h-1zM130 123h2v1h-2zM136 95h1v24h-1zM137 101h1v1h-1zM134 117h2v1h-2zM140 84h1v20h-1zM141 89h1v1h-1zM138 101h2v1h-2zM143 71h1v25h-1zM144 79h1v1h-1zM141 89h2v1h-2zM168 165h1v81h-1zM169 175h1v1h-1zM166 191h2v1h-2zM176 146h1v45h-1zM177 150h1v1h-1zM174 187h2v1h-2zM183 174h1v54h-1zM184 197h1v1h-1zM181 198h2v1h-2zM194 187h1v56h-1zM195 194h1v1h-1zM192 237h2v1h-2zM204 218h1v31h-1zM205 233h1v1h-1zM202 244h2v1h-2zM211 223h1v46h-1zM212 234h1v1h-1zM209 250h2v1h-2zM215 206h1v34h-1zM216 217h1v1h-1zM213 234h2v1h-2zM219 195h1v29h-1zM220 206h1v1h-1zM217 217h2v1h-2zM251 339h1v38h-1zM252 357h1v1h-1zM249 372h2v1h-2zM258 338h1v46h-1zM259 341h1v1h-1zM256 381h2v1h-2zM262 284h1v69h-1zM263 293h1v1h-1zM260 341h2v1h-2zM265 285h1v37h-1zM266 285h1v1h-1zM263 293h2v1h-2zM269 269h1v34h-1zM270 274h1v1h-1zM267 282h2v1h-2zM276 251h1v45h-1zM277 255h1v1h-1zM274 291h2v1h-2zM287 259h1v25h-1zM288 276h1v1h-1zM285 279h2v1h-2zM294 295h1v27h-1zM295 305h1v1h-1zM292 315h2v1h-2zM305 311h1v41h-1zM306 313h1v1h-1zM303 333h2v1h-2zM316 305h1v21h-1zM317 315h1v1h-1zM314 321h2v1h-2zM326 337h1v26h-1zM327 337h1v1h-1zM324 356h2v1h-2zM341 448h1v59h-1zM342 448h1v1h-1zM339 506h2v1h-2zM344 415h1v45h-1zM345 425h1v1h-1zM342 448h2v1h-2zM348 403h1v38h-1zM349 409h1v1h-1zM346 425h2v1h-2zM355 395h1v36h-1zM356 400h1v1h-1zM353 423h2v1h-2zM362 375h1v39h-1zM363 387h1v1h-1zM360 413h2v1h-2zM366 366h1v40h-1zM367 373h1v1h-1zM364 387h2v1h-2zM369 362h1v19h-1zM370 364h1v1h-1zM367 373h2v1h-2zM377 346h1v39h-1zM378 358h1v1h-1zM375 372h2v1h-2zM384 362h1v25h-1zM385 368h1v1h-1zM382 385h2v1h-2zM387 353h1v16h-1zM388 357h1v1h-1zM385 368h2v1h-2zM391 344h1v33h-1zM392 347h1v1h-1zM389 357h2v1h-2zM402 372h1v19h-1zM403 379h1v1h-1zM400 383h2v1h-2zM413 384h1v25h-1zM414 400h1v1h-1zM411 406h2v1h-2zM420 378h1v34h-1zM421 378h1v1h-1zM418 411h2v1h-2zM423 347h1v33h-1zM424 353h1v1h-1zM421 378h2v1h-2zM427 346h1v19h-1zM428 352h1v1h-1zM425 353h2v1h-2zM445 377h1v27h-1zM446 383h1v1h-1zM443 394h2v1h-2zM459 398h1v42h-1zM460 398h1v1h-1zM457 439h2v1h-2zM481 475h1v42h-1zM482 488h1v1h-1zM479 488h2v1h-2zM495 593h1v62h-1zM496 594h1v1h-1zM493 597h2v1h-2zM499 548h1v47h-1zM500 585h1v1h-1zM497 594h2v1h-2zM502 546h1v64h-1zM503 550h1v1h-1zM500 585h2v1h-2zM506 530h1v48h-1zM507 535h1v1h-1zM504 550h2v1h-2zM510 507h1v31h-1zM511 526h1v1h-1zM508 535h2v1h-2zM535 601h1v59h-1zM536 607h1v1h-1zM533 635h2v1h-2zM538 567h1v47h-1zM539 569h1v1h-1zM536 607h2v1h-2zM542 555h1v25h-1zM543 559h1v1h-1zM540 569h2v1h-2zM545 551h1v32h-1zM546 556h1v1h-1zM543 559h2v1h-2zM553 549h1v32h-1zM554 550h1v1h-1zM551 561h2v1h-2zM556 528h1v36h-1zM557 534h1v1h-1zM554 550h2v1h-2zM560 526h1v24h-1zM561 529h1v1h-1zM558 534h2v1h-2zM571 548h1v26h-1zM572 560h1v1h-1zM569 565h2v1h-2zM578 548h1v35h-1zM579 551h1v1h-1zM576 577h2v1h-2zM581 531h1v21h-1zM582 536h1v1h-1zM579 551h2v1h-2zM599 601h1v30h-1zM600 607h1v1h-1zM597 611h2v1h-2zM603 594h1v18h-1zM604 597h1v1h-1zM601 607h2v1h-2zM614 602h1v43h-1zM615 609h1v1h-1zM612 613h2v1h-2zM617 560h1v55h-1zM618 560h1v1h-1zM615 609h2v1h-2zM624 568h1v35h-1zM625 573h1v1h-1zM622 585h2v1h-2zM632 560h1v24h-1zM633 562h1v1h-1zM630 582h2v1h-2zM635 542h1v26h-1zM636 558h1v1h-1zM633 562h2v1h-2zM639 534h1v26h-1zM640 534h1v1h-1zM637 558h2v1h-2zM642 527h1v17h-1zM643 531h1v1h-1zM640 534h2v1h-2zM646 520h1v16h-1zM647 523h1v1h-1zM644 531h2v1h-2zM653 508h1v30h-1zM654 508h1v1h-1zM651 533h2v1h-2zM657 474h1v35h-1zM658 489h1v1h-1zM655 508h2v1h-2zM660 478h1v24h-1zM661 489h1v1h-1zM658 489h2v1h-2zM664 468h1v22h-1zM665 483h1v1h-1zM662 489h2v1h-2zM671 484h1v27h-1zM672 491h1v1h-1zM669 498h2v1h-2zM675 472h1v23h-1zM676 481h1v1h-1zM673 491h2v1h-2zM682 481h1v19h-1zM683 481h1v1h-1zM680 485h2v1h-2zM693 487h1v15h-1zM694 487h1v1h-1zM691 497h2v1h-2zM696 471h1v17h-1zM697 485h1v1h-1zM694 487h2v1h-2zM700 474h1v21h-1zM701 476h1v1h-1zM698 485h2v1h-2zM703 457h1v20h-1zM704 463h1v1h-1zM701 476h2v1h-2zM711 449h1v22h-1zM712 452h1v1h-1zM709 466h2v1h-2zM718 456h1v32h-1zM719 457h1v1h-1zM716 483h2v1h-2zM721 443h1v19h-1zM722 452h1v1h-1zM719 457h2v1h-2zM725 438h1v16h-1zM726 451h1v1h-1zM723 452h2v1h-2zM732 440h1v19h-1zM733 440h1v1h-1zM730 458h2v1h-2zM736 432h1v14h-1zM737 440h1v1h-1zM734 440h2v1h-2zM747 434h1v20h-1zM748 434h1v1h-1zM745 453h2v1h-2zM750 423h1v14h-1zM751 433h1v1h-1zM748 434h2v1h-2zM754 422h1v19h-1zM755 423h1v1h-1zM752 433h2v1h-2zM757 410h1v20h-1zM758 413h1v1h-1zM755 423h2v1h-2zM761 404h1v12h-1zM762 406h1v1h-1zM759 413h2v1h-2zM765 388h1v20h-1zM766 396h1v1h-1zM763 406h2v1h-2zM768 378h1v19h-1zM769 386h1v1h-1zM766 396h2v1h-2zM772 371h1v22h-1zM773 373h1v1h-1zM770 386h2v1h-2zM775 364h1v14h-1zM776 371h1v1h-1zM773 373h2v1h-2zM782 370h1v16h-1zM783 370h1v1h-1zM780 379h2v1h-2zM786 357h1v18h-1zM787 367h1v1h-1zM784 370h2v1h-2zM793 363h1v15h-1zM794 368h1v1h-1zM791 369h2v1h-2zM797 354h1v17h-1zM798 359h1v1h-1zM795 368h2v1h-2zM811 368h1v31h-1zM812 371h1v1h-1zM809 397h2v1h-2zM822 369h1v23h-1zM823 373h1v1h-1zM820 376h2v1h-2zM840 384h1v28h-1zM841 386h1v1h-1zM838 409h2v1h-2zM844 380h1v15h-1zM845 385h1v1h-1zM842 386h2v1h-2zM847 370h1v17h-1zM848 375h1v1h-1zM845 385h2v1h-2zM872 400h1v21h-1zM873 402h1v1h-1zM870 413h2v1h-2zM879 419h1v16h-1zM880 430h1v1h-1zM877 431h2v1h-2zM883 403h1v29h-1zM884 404h1v1h-1zM881 430h2v1h-2zM887 395h1v15h-1zM888 397h1v1h-1zM885 404h2v1h-2zM890 388h1v21h-1zM891 392h1v1h-1zM888 397h2v1h-2zM894 383h1v11h-1zM895 385h1v1h-1zM892 392h2v1h-2zM897 379h1v11h-1zM898 381h1v1h-1zM895 385h2v1h-2zM905 378h1v26h-1zM906 379h1v1h-1zM903 396h2v1h-2zM919 379h1v33h-1zM920 380h1v1h-1zM917 407h2v1h-2zM923 348h1v36h-1zM924 352h1v1h-1zM921 380h2v1h-2zM926 338h1v19h-1zM927 338h1v1h-1zM924 352h2v1h-2zM933 336h1v16h-1zM934 339h1v1h-1zM931 349h2v1h-2zM937 328h1v21h-1zM938 333h1v1h-1zM935 339h2v1h-2zM944 320h1v15h-1zM945 330h1v1h-1zM942 334h2v1h-2zM948 315h1v18h-1zM949 318h1v1h-1zM946 330h2v1h-2zM951 312h1v12h-1zM952 315h1v1h-1zM949 318h2v1h-2zM966 343h1v13h-1zM967 347h1v1h-1zM964 351h2v1h-2zM969 323h1v25h-1zM970 323h1v1h-1zM967 347h2v1h-2zM973 319h1v15h-1zM974 322h1v1h-1zM971 323h2v1h-2zM980 315h1v25h-1zM981 318h1v1h-1zM978 326h2v1h-2zM984 307h1v22h-1zM985 308h1v1h-1zM982 318h2v1h-2zM998 335h1v21h-1zM999 347h1v1h-1zM996 348h2v1h-2zM1002 332h1v21h-1zM1003 340h1v1h-1zM1000 347h2v1h-2zM1009 357h1v20h-1zM1010 363h1v1h-1zM1007 370h2v1h-2zM1012 353h1v22h-1zM1013 359h1v1h-1zM1010 363h2v1h-2zM1016 342h1v21h-1zM1017 348h1v1h-1zM1014 359h2v1h-2zM1023 332h1v31h-1zM1024 334h1v1h-1zM1021 362h2v1h-2zM1027 326h1v13h-1zM1028 328h1v1h-1zM1025 334h2v1h-2zM1034 319h1v16h-1zM1035 328h1v1h-1zM1032 329h2v1h-2zM1037 311h1v21h-1zM1038 313h1v1h-1zM1035 328h2v1h-2zM1048 317h1v23h-1zM1049 317h1v1h-1zM1046 333h2v1h-2zM1052 300h1v18h-1zM1053 305h1v1h-1zM1050 317h2v1h-2zM1055 297h1v13h-1zM1056 300h1v1h-1zM1053 305h2v1h-2zM1059 291h1v15h-1zM1060 300h1v1h-1zM1057 300h2v1h-2zM1066 293h1v17h-1zM1067 302h1v1h-1zM1064 306h2v1h-2zM1077 305h1v22h-1zM1078 312h1v1h-1zM1075 322h2v1h-2zM1081 292h1v21h-1zM1082 294h1v1h-1zM1079 312h2v1h-2zM1091 303h1v16h-1zM1092 303h1v1h-1zM1089 315h2v1h-2zM1106 323h1v21h-1zM1107 328h1v1h-1zM1104 341h2v1h-2zM1109 307h1v22h-1zM1110 310h1v1h-1zM1107 328h2v1h-2zM1113 298h1v18h-1zM1114 300h1v1h-1zM1111 310h2v1h-2zM1116 287h1v20h-1zM1117 289h1v1h-1zM1114 300h2v1h-2zM1120 271h1v20h-1zM1121 273h1v1h-1zM1118 289h2v1h-2zM1131 267h1v18h-1zM1132 274h1v1h-1zM1129 280h2v1h-2zM1134 271h1v13h-1zM1135 273h1v1h-1zM1132 274h2v1h-2zM1142 258h1v34h-1zM1143 260h1v1h-1zM1140 289h2v1h-2zM1145 252h1v12h-1zM1146 259h1v1h-1zM1143 260h2v1h-2zM1152 259h1v22h-1zM1153 261h1v1h-1zM1150 279h2v1h-2zM1160 268h1v18h-1zM1161 276h1v1h-1zM1158 277h2v1h-2zM1163 257h1v26h-1zM1164 258h1v1h-1zM1161 276h2v1h-2zM1167 253h1v12h-1zM1168 258h1v1h-1zM1165 258h2v1h-2zM1178 240h1v25h-1zM1179 243h1v1h-1zM1176 263h2v1h-2zM1188 238h1v17h-1zM1189 252h1v1h-1zM1186 254h2v1h-2zM1195 235h1v30h-1zM1196 240h1v1h-1zM1193 258h2v1h-2zM1203 228h1v20h-1zM1204 229h1v1h-1zM1201 240h2v1h-2zM1213 264h1v29h-1zM1214 264h1v1h-1zM1211 275h2v1h-2zM1217 256h1v26h-1zM1218 258h1v1h-1zM1215 264h2v1h-2zM1231 267h1v32h-1zM1232 272h1v1h-1zM1229 291h2v1h-2zM1242 277h1v32h-1zM1243 295h1v1h-1zM1240 299h2v1h-2zM1246 264h1v32h-1zM1247 265h1v1h-1zM1244 295h2v1h-2zM1249 254h1v23h-1zM1250 264h1v1h-1zM1247 265h2v1h-2zM1257 247h1v29h-1zM1258 248h1v1h-1zM1255 275h2v1h-2zM1264 239h1v16h-1zM1265 241h1v1h-1zM1262 252h2v1h-2zM1271 229h1v29h-1zM1272 233h1v1h-1zM1269 249h2v1h-2zM1278 217h1v25h-1zM1279 221h1v1h-1zM1276 237h2v1h-2zM1282 207h1v23h-1zM1283 211h1v1h-1zM1280 221h2v1h-2zM1285 197h1v20h-1zM1286 199h1v1h-1zM1283 211h2v1h-2zM1289 192h1v15h-1zM1290 196h1v1h-1zM1287 199h2v1h-2zM1292 180h1v21h-1zM1293 189h1v1h-1zM1290 196h2v1h-2zM1300 180h1v20h-1zM1301 187h1v1h-1zM1298 199h2v1h-2zM1303 168h1v22h-1zM1304 170h1v1h-1zM1301 187h2v1h-2zM1314 157h1v19h-1zM1315 164h1v1h-1zM1312 174h2v1h-2zM1318 147h1v23h-1zM1319 150h1v1h-1zM1316 164h2v1h-2zM1325 150h1v15h-1zM1326 157h1v1h-1zM1323 163h2v1h-2zM1332 147h1v23h-1zM1333 148h1v1h-1zM1330 164h2v1h-2zM1343 133h1v26h-1zM1344 134h1v1h-1zM1341 154h2v1h-2zM1350 127h1v22h-1zM1351 129h1v1h-1zM1348 142h2v1h-2zM1361 164h1v29h-1zM1362 169h1v1h-1zM1359 181h2v1h-2zM1368 141h1v42h-1zM1369 144h1v1h-1zM1366 181h2v1h-2zM1375 137h1v24h-1zM1376 138h1v1h-1zM1373 156h2v1h-2zM1379 130h1v17h-1zM1380 131h1v1h-1zM1377 138h2v1h-2zM1382 106h1v26h-1zM1383 106h1v1h-1zM1380 131h2v1h-2zM1386 96h1v20h-1zM1387 99h1v1h-1zM1384 106h2v1h-2zM1389 86h1v28h-1zM1390 90h1v1h-1zM1387 99h2v1h-2zM1393 84h1v19h-1zM1394 89h1v1h-1zM1391 90h2v1h-2zM1397 77h1v19h-1zM1398 77h1v1h-1zM1395 89h2v1h-2zM1404 63h1v25h-1zM1405 66h1v1h-1zM1402 82h2v1h-2zM1411 64h1v38h-1zM1412 69h1v1h-1zM1409 88h2v1h-2zM1418 81h1v27h-1zM1419 92h1v1h-1zM1416 93h2v1h-2zM1422 70h1v23h-1zM1423 71h1v1h-1zM1420 92h2v1h-2zM1425 52h1v40h-1zM1426 54h1v1h-1zM1423 71h2v1h-2zM1440 91h1v60h-1zM1441 130h1v1h-1zM1438 146h2v1h-2zM1447 110h1v40h-1zM1448 110h1v1h-1zM1445 137h2v1h-2zM1458 102h1v41h-1zM1459 106h1v1h-1zM1456 131h2v1h-2zM1461 64h1v54h-1zM1462 75h1v1h-1zM1459 106h2v1h-2zM1465 68h1v23h-1zM1466 74h1v1h-1zM1463 75h2v1h-2zM1468 46h1v29h-1zM1469 51h1v1h-1zM1466 74h2v1h-2zM1472 35h1v25h-1zM1473 47h1v1h-1zM1470 51h2v1h-2zM1479 67h1v37h-1zM1480 67h1v1h-1zM1477 95h2v1h-2zM1490 100h1v44h-1zM1491 127h1v1h-1zM1488 130h2v1h-2zM1497 103h1v65h-1zM1498 110h1v1h-1zM1495 140h2v1h-2zM1501 86h1v41h-1zM1502 91h1v1h-1zM1499 110h2v1h-2zM1508 105h1v41h-1zM1509 106h1v1h-1zM1506 119h2v1h-2z"/><path fill="#dc143c" d="M21 111h1v80h-1zM22 139h1v1h-1zM19 117h2v1h-2zM28 121h1v23h-1zM29 139h1v1h-1zM26 122h2v1h-2zM32 130h1v77h-1zM33 202h1v1h-1zM30 139h2v1h-2zM39 137h1v51h-1zM40 181h1v1h-1zM37 153h2v1h-2zM43 165h1v51h-1zM44 213h1v1h-1zM41 181h2v1h-2zM46 194h1v34h-1zM47 223h1v1h-1zM44 213h2v1h-2zM53 161h1v54h-1zM54 175h1v1h-1zM51 164h2v1h-2zM64 67h1v49h-1zM65 96h1v1h-1zM62 74h2v1h-2zM71 73h1v147h-1zM72 205h1v1h-1zM69 83h2v1h-2zM82 109h1v66h-1zM83 146h1v1h-1zM80 131h2v1h-2zM86 146h1v46h-1zM87 155h1v1h-1zM84 146h2v1h-2zM89 117h1v55h-1zM90 166h1v1h-1zM87 155h2v1h-2zM93 162h1v41h-1zM94 188h1v1h-1zM91 166h2v1h-2zM100 112h1v19h-1zM101 127h1v1h-1zM98 112h2v1h-2zM107 103h1v41h-1zM108 139h1v1h-1zM105 122h2v1h-2zM122 81h1v32h-1zM123 110h1v1h-1zM120 88h2v1h-2zM125 105h1v57h-1zM126 156h1v1h-1zM123 110h2v1h-2zM147 78h1v26h-1zM148 99h1v1h-1zM145 79h2v1h-2zM150 89h1v38h-1zM151 119h1v1h-1zM148 99h2v1h-2zM154 119h1v37h-1zM155 134h1v1h-1zM152 119h2v1h-2zM158 124h1v34h-1zM159 143h1v1h-1zM156 134h2v1h-2zM161 129h1v47h-1zM162 165h1v1h-1zM159 143h2v1h-2zM165 165h1v65h-1zM166 191h1v1h-1zM163 165h2v1h-2zM172 159h1v62h-1zM173 187h1v1h-1zM170 175h2v1h-2zM179 142h1v58h-1zM180 198h1v1h-1zM177 150h2v1h-2zM186 196h1v38h-1zM187 217h1v1h-1zM184 197h2v1h-2zM190 200h1v54h-1zM191 237h1v1h-1zM188 217h2v1h-2zM197 180h1v66h-1zM198 240h1v1h-1zM195 194h2v1h-2zM201 213h1v73h-1zM202 244h1v1h-1zM199 240h2v1h-2zM208 210h1v60h-1zM209 250h1v1h-1zM206 233h2v1h-2zM222 184h1v28h-1zM223 210h1v1h-1zM220 206h2v1h-2zM226 199h1v44h-1zM227 237h1v1h-1zM224 210h2v1h-2zM229 220h1v36h-1zM230 247h1v1h-1zM227 237h2v1h-2zM233 243h1v73h-1zM234 290h1v1h-1zM231 247h2v1h-2zM237 270h1v46h-1zM238 298h1v1h-1zM235 290h2v1h-2zM240 274h1v32h-1zM241 304h1v1h-1zM238 298h2v1h-2zM244 300h1v66h-1zM245 364h1v1h-1zM242 304h2v1h-2zM247 341h1v77h-1zM248 372h1v1h-1zM245 364h2v1h-2zM255 349h1v61h-1zM256 381h1v1h-1zM253 357h2v1h-2zM273 272h1v24h-1zM274 291h1v1h-1zM271 274h2v1h-2zM280 236h1v33h-1zM281 266h1v1h-1zM278 255h2v1h-2zM283 265h1v27h-1zM284 279h1v1h-1zM281 266h2v1h-2zM290 276h1v49h-1zM291 315h1v1h-1zM288 276h2v1h-2zM298 297h1v26h-1zM299 306h1v1h-1zM296 305h2v1h-2zM301 295h1v40h-1zM302 333h1v1h-1zM299 306h2v1h-2zM308 306h1v24h-1zM309 317h1v1h-1zM306 313h2v1h-2zM312 314h1v39h-1zM313 321h1v1h-1zM310 317h2v1h-2zM319 315h1v36h-1zM320 333h1v1h-1zM317 315h2v1h-2zM323 327h1v35h-1zM324 356h1v1h-1zM321 333h2v1h-2zM330 336h1v50h-1zM331 378h1v1h-1zM328 337h2v1h-2zM334 360h1v59h-1zM335 415h1v1h-1zM332 378h2v1h-2zM337 405h1v120h-1zM338 506h1v1h-1zM335 415h2v1h-2zM352 397h1v39h-1zM353 423h1v1h-1zM350 409h2v1h-2zM359 400h1v41h-1zM360 413h1v1h-1zM357 400h2v1h-2zM373 354h1v31h-1zM374 372h1v1h-1zM371 364h2v1h-2zM380 358h1v36h-1zM381 385h1v1h-1zM378 358h2v1h-2zM395 343h1v26h-1zM396 368h1v1h-1zM393 347h2v1h-2zM398 365h1v20h-1zM399 383h1v1h-1zM396 368h2v1h-2zM405 373h1v46h-1zM406 387h1v1h-1zM403 379h2v1h-2zM409 386h1v36h-1zM410 406h1v1h-1zM407 387h2v1h-2zM416 400h1v24h-1zM417 412h1v1h-1zM414 400h2v1h-2zM431 346h1v28h-1zM432 365h1v1h-1zM429 352h2v1h-2zM434 361h1v18h-1zM435 366h1v1h-1zM432 365h2v1h-2zM438 366h1v24h-1zM439 385h1v1h-1zM436 366h2v1h-2zM441 378h1v25h-1zM442 394h1v1h-1zM439 385h2v1h-2zM448 383h1v40h-1zM449 421h1v1h-1zM446 383h2v1h-2zM452 409h1v24h-1zM453 423h1v1h-1zM450 421h2v1h-2zM456 411h1v33h-1zM457 439h1v1h-1zM454 423h2v1h-2zM463 398h1v25h-1zM464 415h1v1h-1zM461 398h2v1h-2zM466 414h1v26h-1zM467 428h1v1h-1zM464 415h2v1h-2zM470 425h1v46h-1zM471 459h1v1h-1zM468 428h2v1h-2zM474 450h1v46h-1zM475 474h1v1h-1zM472 459h2v1h-2zM477 448h1v45h-1zM478 488h1v1h-1zM475 474h2v1h-2zM484 484h1v48h-1zM485 489h1v1h-1zM482 488h2v1h-2zM488 485h1v73h-1zM489 542h1v1h-1zM486 489h2v1h-2zM492 537h1v67h-1zM493 597h1v1h-1zM490 542h2v1h-2zM513 514h1v43h-1zM514 545h1v1h-1zM511 526h2v1h-2zM517 545h1v37h-1zM518 562h1v1h-1zM515 545h2v1h-2zM520 539h1v38h-1zM521 565h1v1h-1zM518 562h2v1h-2zM524 555h1v51h-1zM525 599h1v1h-1zM522 565h2v1h-2zM528 591h1v32h-1zM529 613h1v1h-1zM526 599h2v1h-2zM531 594h1v47h-1zM532 635h1v1h-1zM529 613h2v1h-2zM549 537h1v29h-1zM550 561h1v1h-1zM547 556h2v1h-2zM563 517h1v45h-1zM564 548h1v1h-1zM561 529h2v1h-2zM567 548h1v20h-1zM568 565h1v1h-1zM565 548h2v1h-2zM574 554h1v25h-1zM575 577h1v1h-1zM572 560h2v1h-2zM585 530h1v30h-1zM586 556h1v1h-1zM583 536h2v1h-2zM589 553h1v37h-1zM590 588h1v1h-1zM587 556h2v1h-2zM592 581h1v24h-1zM593 591h1v1h-1zM590 588h2v1h-2zM596 584h1v32h-1zM597 611h1v1h-1zM594 591h2v1h-2zM607 597h1v25h-1zM608 603h1v1h-1zM605 597h2v1h-2zM610 594h1v34h-1zM611 613h1v1h-1zM608 603h2v1h-2zM621 560h1v31h-1zM622 585h1v1h-1zM619 560h2v1h-2zM628 553h1v35h-1zM629 582h1v1h-1zM626 573h2v1h-2zM650 523h1v27h-1zM651 533h1v1h-1zM648 523h2v1h-2zM668 483h1v19h-1zM669 498h1v1h-1zM666 483h2v1h-2zM678 468h1v29h-1zM679 485h1v1h-1zM676 481h2v1h-2zM686 476h1v21h-1zM687 496h1v1h-1zM684 481h2v1h-2zM689 491h1v21h-1zM690 497h1v1h-1zM687 496h2v1h-2zM707 455h1v20h-1zM708 466h1v1h-1zM705 463h2v1h-2zM714 452h1v33h-1zM715 483h1v1h-1zM712 452h2v1h-2zM729 443h1v25h-1zM730 458h1v1h-1zM727 451h2v1h-2zM739 431h1v16h-1zM740 441h1v1h-1zM737 440h2v1h-2zM743 441h1v17h-1zM744 453h1v1h-1zM741 441h2v1h-2zM779 360h1v27h-1zM780 379h1v1h-1zM777 371h2v1h-2zM790 357h1v18h-1zM791 369h1v1h-1zM788 367h2v1h-2zM800 357h1v43h-1zM801 387h1v1h-1zM798 359h2v1h-2zM804 383h1v20h-1zM805 395h1v1h-1zM802 387h2v1h-2zM808 391h1v24h-1zM809 397h1v1h-1zM806 395h2v1h-2zM815 364h1v14h-1zM816 371h1v1h-1zM813 371h2v1h-2zM818 366h1v23h-1zM819 376h1v1h-1zM816 371h2v1h-2zM826 367h1v32h-1zM827 397h1v1h-1zM824 373h2v1h-2zM829 381h1v25h-1zM830 404h1v1h-1zM827 397h2v1h-2zM833 401h1v22h-1zM834 406h1v1h-1zM831 404h2v1h-2zM836 398h1v23h-1zM837 409h1v1h-1zM834 406h2v1h-2zM851 373h1v15h-1zM852 376h1v1h-1zM849 375h2v1h-2zM854 367h1v19h-1zM855 376h1v1h-1zM852 376h2v1h-2zM858 368h1v18h-1zM859 384h1v1h-1zM856 376h2v1h-2zM861 383h1v15h-1zM862 392h1v1h-1zM859 384h2v1h-2zM865 388h1v16h-1zM866 402h1v1h-1zM863 392h2v1h-2zM869 390h1v28h-1zM870 413h1v1h-1zM867 402h2v1h-2zM876 396h1v38h-1zM877 431h1v1h-1zM874 402h2v1h-2zM901 378h1v21h-1zM902 396h1v1h-1zM899 381h2v1h-2zM908 370h1v19h-1zM909 385h1v1h-1zM906 379h2v1h-2zM912 382h1v21h-1zM913 397h1v1h-1zM910 385h2v1h-2zM915 389h1v20h-1zM916 407h1v1h-1zM913 397h2v1h-2zM930 335h1v16h-1zM931 349h1v1h-1zM928 338h2v1h-2zM940 332h1v16h-1zM941 335h1v1h-1zM938 333h2v1h-2zM955 312h1v29h-1zM956 337h1v1h-1zM953 315h2v1h-2zM958 330h1v16h-1zM959 338h1v1h-1zM956 337h2v1h-2zM962 329h1v24h-1zM963 351h1v1h-1zM960 338h2v1h-2zM976 316h1v14h-1zM977 326h1v1h-1zM974 322h2v1h-2zM987 303h1v25h-1zM988 326h1v1h-1zM985 308h2v1h-2zM991 318h1v23h-1zM992 334h1v1h-1zM989 326h2v1h-2zM994 334h1v18h-1zM995 348h1v1h-1zM992 334h2v1h-2zM1005 333h1v39h-1zM1006 370h1v1h-1zM1003 340h2v1h-2zM1019 343h1v26h-1zM1020 362h1v1h-1zM1017 348h2v1h-2zM1030 321h1v14h-1zM1031 329h1v1h-1zM1028 328h2v1h-2zM1041 312h1v22h-1zM1042 333h1v1h-1zM1039 313h2v1h-2zM1045 323h1v14h-1zM1046 333h1v1h-1zM1043 333h2v1h-2zM1063 290h1v18h-1zM1064 306h1v1h-1zM1061 300h2v1h-2zM1070 298h1v17h-1zM1071 310h1v1h-1zM1068 302h2v1h-2zM1073 304h1v20h-1zM1074 322h1v1h-1zM1071 310h2v1h-2zM1084 294h1v15h-1zM1085 297h1v1h-1zM1082 294h2v1h-2zM1088 297h1v27h-1zM1089 315h1v1h-1zM1086 297h2v1h-2zM1095 300h1v42h-1zM1096 329h1v1h-1zM1093 303h2v1h-2zM1099 328h1v24h-1zM1100 337h1v1h-1zM1097 329h2v1h-2zM1102 328h1v22h-1zM1103 341h1v1h-1zM1100 337h2v1h-2zM1124 273h1v17h-1zM1125 276h1v1h-1zM1122 273h2v1h-2zM1127 269h1v19h-1zM1128 280h1v1h-1zM1125 276h2v1h-2zM1138 270h1v22h-1zM1139 289h1v1h-1zM1136 273h2v1h-2zM1149 258h1v23h-1zM1150 279h1v1h-1zM1147 259h2v1h-2zM1156 258h1v23h-1zM1157 277h1v1h-1zM1154 261h2v1h-2zM1170 250h1v17h-1zM1171 258h1v1h-1zM1168 258h2v1h-2zM1174 258h1v17h-1zM1175 263h1v1h-1zM1172 258h2v1h-2zM1181 240h1v14h-1zM1182 245h1v1h-1zM1179 243h2v1h-2zM1185 241h1v16h-1zM1186 254h1v1h-1zM1183 245h2v1h-2zM1192 248h1v16h-1zM1193 258h1v1h-1zM1190 252h2v1h-2zM1199 236h1v18h-1zM1200 240h1v1h-1zM1197 240h2v1h-2zM1206 228h1v30h-1zM1207 256h1v1h-1zM1204 229h2v1h-2zM1210 250h1v33h-1zM1211 275h1v1h-1zM1208 256h2v1h-2zM1221 258h1v43h-1zM1222 286h1v1h-1zM1219 258h2v1h-2zM1224 280h1v33h-1zM1225 286h1v1h-1zM1222 286h2v1h-2zM1228 281h1v17h-1zM1229 291h1v1h-1zM1226 286h2v1h-2zM1235 264h1v15h-1zM1236 275h1v1h-1zM1233 272h2v1h-2zM1239 269h1v37h-1zM1240 299h1v1h-1zM1237 275h2v1h-2zM1253 261h1v19h-1zM1254 275h1v1h-1zM1251 264h2v1h-2zM1260 248h1v11h-1zM1261 252h1v1h-1zM1258 248h2v1h-2zM1267 237h1v20h-1zM1268 249h1v1h-1zM1265 241h2v1h-2zM1274 227h1v15h-1zM1275 237h1v1h-1zM1272 233h2v1h-2zM1296 185h1v18h-1zM1297 199h1v1h-1zM1294 189h2v1h-2zM1307 165h1v10h-1zM1308 171h1v1h-1zM1305 170h2v1h-2zM1310 167h1v23h-1zM1311 174h1v1h-1zM1308 171h2v1h-2zM1321 147h1v17h-1zM1322 163h1v1h-1zM1319 150h2v1h-2zM1328 149h1v20h-1zM1329 164h1v1h-1zM1326 157h2v1h-2zM1336 144h1v11h-1zM1337 149h1v1h-1zM1334 148h2v1h-2zM1339 140h1v20h-1zM1340 154h1v1h-1zM1337 149h2v1h-2zM1346 130h1v16h-1zM1347 142h1v1h-1zM1344 134h2v1h-2zM1353 124h1v12h-1zM1354 132h1v1h-1zM1351 129h2v1h-2zM1357 127h1v61h-1zM1358 181h1v1h-1zM1355 132h2v1h-2zM1364 164h1v37h-1zM1365 181h1v1h-1zM1362 169h2v1h-2zM1371 142h1v23h-1zM1372 156h1v1h-1zM1369 144h2v1h-2zM1400 69h1v23h-1zM1401 82h1v1h-1zM1398 77h2v1h-2zM1407 63h1v43h-1zM1408 88h1v1h-1zM1405 66h2v1h-2zM1415 65h1v31h-1zM1416 93h1v1h-1zM1413 69h2v1h-2zM1429 51h1v23h-1zM1430 68h1v1h-1zM1427 54h2v1h-2zM1432 57h1v71h-1zM1433 126h1v1h-1zM1430 68h2v1h-2zM1436 103h1v45h-1zM1437 146h1v1h-1zM1434 126h2v1h-2zM1443 120h1v76h-1zM1444 137h1v1h-1zM1441 130h2v1h-2zM1450 109h1v40h-1zM1451 115h1v1h-1zM1448 110h2v1h-2zM1454 97h1v39h-1zM1455 131h1v1h-1zM1452 115h2v1h-2zM1476 44h1v52h-1zM1477 95h1v1h-1zM1474 47h2v1h-2zM1483 54h1v48h-1zM1484 87h1v1h-1zM1481 67h2v1h-2zM1486 78h1v57h-1zM1487 130h1v1h-1zM1484 87h2v1h-2zM1494 128h1v33h-1zM1495 140h1v1h-1zM1492 128h2v1h-2zM1504 76h1v45h-1zM1505 119h1v1h-1zM1502 91h2v1h-2zM1511 95h1v22h-1zM1512 113h1v1h-1zM1509 106h2v1h-2zM1515 113h1v10h-1zM1516 119h1v1h-1zM1513 113h2v1h-2z"/><rect x="16" y="56" width="1505" height="2" fill="#000"/><path fill="#006400" d="M20 31h1v6h-1zM19 32h1v1h-1zM21 35h1v1h-1zM23 34h1v6h-1zM22 38h3v1h-3zM26 31h1v7h-1zM25 36h1v1h-1zM27 34h1v1h-1z"/><path fill="#dc143c" d="M1514 20.5h7.6l-3.8 4.5z" shape-rendering="auto"/><g shape-rendering="auto" text-rendering="geometricPrecision"><text x="1549" y="657.2" font-family="'Liberation Sans', sans-serif" font-size="10px" font-weight="normal" text-anchor="end" letter-spacing="0.44" fill="#000"  stroke="#000" stroke-width="0.2">775</text><text x="1549" y="638.2" font-family="'Liberation Sans', sans-serif" font-size="10px" font-weight="normal" text-anchor="end" letter-spacing="0.44" fill="#000"  stroke="#000" stroke-width="0.2">800</text><text x="1549" y="618.2" font-family="'Liberation Sans', sans-serif" font-size="10px" font-weight="normal" text-anchor="end" letter-spacing="0.44" fill="#000"  stroke="#000" stroke-width="0.2">825</text><text x="1549" y="599.2" font-family="'Liberation Sans', sans-serif" font-size="10px" font-weight="normal" text-anchor="end" letter-spacing="0.44" fill="#000"  stroke="#000" stroke-width="0.2">850</text><text x="1549" y="580.2" font-family="'Liberation Sans', sans-serif" font-size="10px" font-weight="normal" text-anchor="end" letter-spacing="0.44" fill="#000"  stroke="#000" stroke-width="0.2">875</text><text x="1549" y="560.2" font-family="'Liberation Sans', sans-serif" font-size="10px" font-weight="normal" text-anchor="end" letter-spacing="0.44" fill="#000"  stroke="#000" stroke-width="0.2">900</text><text x="1549" y="541.2" font-family="'Liberation Sans', sans-serif" font-size="10px" font-weight="normal" text-anchor="end" letter-spacing="0.44" fill="#000"  stroke="#000" stroke-width="0.2">925</text><text x="1549" y="522.2" font-family="'Liberation Sans', sans-serif" font-size="10px" font-weight="normal" text-anchor="end" letter-spacing="0.44" fill="#000"  stroke="#000" stroke-width="0.2">950</text><text x="1549" y="502.2" font-family="'Liberation Sans', sans-serif" font-size="10px" font-weight="normal" text-anchor="end" letter-spacing="0.44" fill="#000"  stroke="#000" stroke-width="0.2">975</text><text x="1549" y="483.2" font-family="'Liberation Sans', sans-serif" font-size="10px" font-weight="normal" text-anchor="end" letter-spacing="0.44" fill="#000"  stroke="#000" stroke-width="0.2">1000</text><text x="1549" y="464.2" font-family="'Liberation Sans', sans-serif" font-size="10px" font-weight="normal" text-anchor="end" letter-spacing="0.44" fill="#000"  stroke="#000" stroke-width="0.2">1025</text><text x="1549" y="444.2" font-family="'Liberation Sans', sans-serif" font-size="10px" font-weight="normal" text-anchor="end" letter-spacing="0.44" fill="#000"  stroke="#000" stroke-width="0.2">1050</text><text x="1549" y="425.2" font-family="'Liberation Sans', sans-serif" font-size="10px" font-weight="normal" text-anchor="end" letter-spacing="0.44" fill="#000"  stroke="#000" stroke-width="0.2">1075</text><text x="1549" y="406.2" font-family="'Liberation Sans', sans-serif" font-size="10px" font-weight="normal" text-anchor="end" letter-spacing="0.44" fill="#000"  stroke="#000" stroke-width="0.2">1100</text><text x="1549" y="387.2" font-family="'Liberation Sans', sans-serif" font-size="10px" font-weight="normal" text-anchor="end" letter-spacing="0.44" fill="#000"  stroke="#000" stroke-width="0.2">1125</text><text x="1549" y="367.2" font-family="'Liberation Sans', sans-serif" font-size="10px" font-weight="normal" text-anchor="end" letter-spacing="0.44" fill="#000"  stroke="#000" stroke-width="0.2">1150</text><text x="1549" y="348.2" font-family="'Liberation Sans', sans-serif" font-size="10px" font-weight="normal" text-anchor="end" letter-spacing="0.44" fill="#000"  stroke="#000" stroke-width="0.2">1175</text><text x="1549" y="329.2" font-family="'Liberation Sans', sans-serif" font-size="10px" font-weight="normal" text-anchor="end" letter-spacing="0.44" fill="#000"  stroke="#000" stroke-width="0.2">1200</text><text x="1549" y="309.2" font-family="'Liberation Sans', sans-serif" font-size="10px" font-weight="normal" text-anchor="end" letter-spacing="0.44" fill="#000"  stroke="#000" stroke-width="0.2">1225</text><text x="1549" y="290.2" font-family="'Liberation Sans', sans-serif" font-size="10px" font-weight="normal" text-anchor="end" letter-spacing="0.44" fill="#000"  stroke="#000" stroke-width="0.2">1250</text><text x="1549" y="271.2" font-family="'Liberation Sans', sans-serif" font-size="10px" font-weight="normal" text-anchor="end" letter-spacing="0.44" fill="#000"  stroke="#000" stroke-width="0.2">1275</text><text x="1549" y="251.2" font-family="'Liberation Sans', sans-serif" font-size="10px" font-weight="normal" text-anchor="end" letter-spacing="0.44" fill="#000"  stroke="#000" stroke-width="0.2">1300</text><text x="1549" y="232.2" font-family="'Liberation Sans', sans-serif" font-size="10px" font-weight="normal" text-anchor="end" letter-spacing="0.44" fill="#000"  stroke="#000" stroke-width="0.2">1325</text><text x="1549" y="213.2" font-family="'Liberation Sans', sans-serif" font-size="10px" font-weight="normal" text-anchor="end" letter-spacing="0.44" fill="#000"  stroke="#000" stroke-width="0.2">1350</text><text x="1549" y="193.2" font-family="'Liberation Sans', sans-serif" font-size="10px" font-weight="normal" text-anchor="end" letter-spacing="0.44" fill="#000"  stroke="#000" stroke-width="0.2">1375</text><text x="1549" y="174.2" font-family="'Liberation Sans', sans-serif" font-size="10px" font-weight="normal" text-anchor="end" letter-spacing="0.44" fill="#000"  stroke="#000" stroke-width="0.2">1400</text><text x="1549" y="155.2" font-family="'Liberation Sans', sans-serif" font-size="10px" font-weight="normal" text-anchor="end" letter-spacing="0.44" fill="#000"  stroke="#000" stroke-width="0.2">1425</text><text x="1549" y="135.2" font-family="'Liberation Sans', sans-serif" font-size="10px" font-weight="normal" text-anchor="end" letter-spacing="0.44" fill="#000"  stroke="#000" stroke-width="0.2">1450</text><text x="1549" y="116.2" font-family="'Liberation Sans', sans-serif" font-size="10px" font-weight="normal" text-anchor="end" letter-spacing="0.44" fill="#000"  stroke="#000" stroke-width="0.2">1475</text><text x="1549" y="97.2" font-family="'Liberation Sans', sans-serif" font-size="10px" font-weight="normal" text-anchor="end" letter-spacing="0.44" fill="#000"  stroke="#000" stroke-width="0.2">1500</text><text x="1549" y="78.2" font-family="'Liberation Sans', sans-serif" font-size="10px" font-weight="normal" text-anchor="end" letter-spacing="0.44" fill="#000"  stroke="#000" stroke-width="0.2">1525</text><text x="1549" y="59.2" font-family="'Liberation Sans', sans-serif" font-size="10px" font-weight="normal" text-anchor="end" letter-spacing="0.44" fill="#000"  stroke="#000" stroke-width="0.2">1550</text><text x="1549" y="39.2" font-family="'Liberation Sans', sans-serif" font-size="10px" font-weight="normal" text-anchor="end" letter-spacing="0.44" fill="#000"  stroke="#000" stroke-width="0.2">1575</text><text x="20.7" y="676" font-family="'Liberation Sans', sans-serif" font-size="10.5px" font-weight="bold" text-anchor="middle" letter-spacing="0" fill="#000" >00</text><text x="40" y="676" font-family="'Liberation Sans', sans-serif" font-size="10px" font-weight="normal" text-anchor="middle" letter-spacing="0" fill="#000"  stroke="#000" stroke-width="0.2">F</text><text x="54" y="676" font-family="'Liberation Sans', sans-serif" font-size="10px" font-weight="normal" text-anchor="middle" letter-spacing="0" fill="#000"  stroke="#000" stroke-width="0.2">M</text><text x="69" y="676" font-family="'Liberation Sans', sans-serif" font-size="10px" font-weight="normal" text-anchor="middle" letter-spacing="0" fill="#000"  stroke="#000" stroke-width="0.2">A</text><text x="83" y="676" font-family="'Liberation Sans', sans-serif" font-size="10px" font-weight="normal" text-anchor="middle" letter-spacing="0" fill="#000"  stroke="#000" stroke-width="0.2">M</text><text x="101" y="676" font-family="'Liberation Sans', sans-serif" font-size="10px" font-weight="normal" text-anchor="middle" letter-spacing="0" fill="#000"  stroke="#000" stroke-width="0.2">J</text><text x="116" y="676" font-family="'Liberation Sans', sans-serif" font-size="10px" font-weight="normal" text-anchor="middle" letter-spacing="0" fill="#000"  stroke="#000" stroke-width="0.2">J</text><text x="133" y="676" font-family="'Liberation Sans', sans-serif" font-size="10px" font-weight="normal" text-anchor="middle" letter-spacing="0" fill="#000"  stroke="#000" stroke-width="0.2">A</text><text x="148" y="676" font-family="'Liberation Sans', sans-serif" font-size="10px" font-weight="normal" text-anchor="middle" letter-spacing="0" fill="#000"  stroke="#000" stroke-width="0.2">S</text><text x="162" y="676" font-family="'Liberation Sans', sans-serif" font-size="10px" font-weight="normal" text-anchor="middle" letter-spacing="0" fill="#000"  stroke="#000" stroke-width="0.2">O</text><text x="180" y="676" font-family="'Liberation Sans', sans-serif" font-size="10px" font-weight="normal" text-anchor="middle" letter-spacing="0" fill="#000"  stroke="#000" stroke-width="0.2">N</text><text x="195" y="676" font-family="'Liberation Sans', sans-serif" font-size="10px" font-weight="normal" text-anchor="middle" letter-spacing="0" fill="#000"  stroke="#000" stroke-width="0.2">D</text><text x="207.7" y="676" font-family="'Liberation Sans', sans-serif" font-size="10.5px" font-weight="bold" text-anchor="middle" letter-spacing="0" fill="#000" >01</text><text x="227" y="676" font-family="'Liberation Sans', sans-serif" font-size="10px" font-weight="normal" text-anchor="middle" letter-spacing="0" fill="#000"  stroke="#000" stroke-width="0.2">F</text><text x="241" y="676" font-family="'Liberation Sans', sans-serif" font-size="10px" font-weight="normal" text-anchor="middle" letter-spacing="0" fill="#000"  stroke="#000" stroke-width="0.2">M</text><text x="256" y="676" font-family="'Liberation Sans', sans-serif" font-size="10px" font-weight="normal" text-anchor="middle" letter-spacing="0" fill="#000"  stroke="#000" stroke-width="0.2">A</text><text x="274" y="676" font-family="'Liberation Sans', sans-serif" font-size="10px" font-weight="normal" text-anchor="middle" letter-spacing="0" fill="#000"  stroke="#000" stroke-width="0.2">M</text><text x="288" y="676" font-family="'Liberation Sans', sans-serif" font-size="10px" font-weight="normal" text-anchor="middle" letter-spacing="0" fill="#000"  stroke="#000" stroke-width="0.2">J</text><text x="302" y="676" font-family="'Liberation Sans', sans-serif" font-size="10px" font-weight="normal" text-anchor="middle" letter-spacing="0" fill="#000"  stroke="#000" stroke-width="0.2">J</text><text x="320" y="676" font-family="'Liberation Sans', sans-serif" font-size="10px" font-weight="normal" text-anchor="middle" letter-spacing="0" fill="#000"  stroke="#000" stroke-width="0.2">A</text><text x="335" y="676" font-family="'Liberation Sans', sans-serif" font-size="10px" font-weight="normal" text-anchor="middle" letter-spacing="0" fill="#000"  stroke="#000" stroke-width="0.2">S</text><text x="345" y="676" font-family="'Liberation Sans', sans-serif" font-size="10px" font-weight="normal" text-anchor="middle" letter-spacing="0" fill="#000"  stroke="#000" stroke-width="0.2">O</text><text x="363" y="676" font-family="'Liberation Sans', sans-serif" font-size="10px" font-weight="normal" text-anchor="middle" letter-spacing="0" fill="#000"  stroke="#000" stroke-width="0.2">N</text><text x="378" y="676" font-family="'Liberation Sans', sans-serif" font-size="10px" font-weight="normal" text-anchor="middle" letter-spacing="0" fill="#000"  stroke="#000" stroke-width="0.2">D</text><text x="394.7" y="676" font-family="'Liberation Sans', sans-serif" font-size="10.5px" font-weight="bold" text-anchor="middle" letter-spacing="0" fill="#000" >02</text><text x="410" y="676" font-family="'Liberation Sans', sans-serif" font-size="10px" font-weight="normal" text-anchor="middle" letter-spacing="0" fill="#000"  stroke="#000" stroke-width="0.2">F</text><text x="424" y="676" font-family="'Liberation Sans', sans-serif" font-size="10px" font-weight="normal" text-anchor="middle" letter-spacing="0" fill="#000"  stroke="#000" stroke-width="0.2">M</text><text x="439" y="676" font-family="'Liberation Sans', sans-serif" font-size="10px" font-weight="normal" text-anchor="middle" letter-spacing="0" fill="#000"  stroke="#000" stroke-width="0.2">A</text><text x="457" y="676" font-family="'Liberation Sans', sans-serif" font-size="10px" font-weight="normal" text-anchor="middle" letter-spacing="0" fill="#000"  stroke="#000" stroke-width="0.2">M</text><text x="471" y="676" font-family="'Liberation Sans', sans-serif" font-size="10px" font-weight="normal" text-anchor="middle" letter-spacing="0" fill="#000"  stroke="#000" stroke-width="0.2">J</text><text x="485" y="676" font-family="'Liberation Sans', sans-serif" font-size="10px" font-weight="normal" text-anchor="middle" letter-spacing="0" fill="#000"  stroke="#000" stroke-width="0.2">J</text><text x="503" y="676" font-family="'Liberation Sans', sans-serif" font-size="10px" font-weight="normal" text-anchor="middle" letter-spacing="0" fill="#000"  stroke="#000" stroke-width="0.2">A</text><text x="518" y="676" font-family="'Liberation Sans', sans-serif" font-size="10px" font-weight="normal" text-anchor="middle" letter-spacing="0" fill="#000"  stroke="#000" stroke-width="0.2">S</text><text x="536" y="676" font-family="'Liberation Sans', sans-serif" font-size="10px" font-weight="normal" text-anchor="middle" letter-spacing="0" fill="#000"  stroke="#000" stroke-width="0.2">O</text><text x="550" y="676" font-family="'Liberation Sans', sans-serif" font-size="10px" font-weight="normal" text-anchor="middle" letter-spacing="0" fill="#000"  stroke="#000" stroke-width="0.2">N</text><text x="564" y="676" font-family="'Liberation Sans', sans-serif" font-size="10px" font-weight="normal" text-anchor="middle" letter-spacing="0" fill="#000"  stroke="#000" stroke-width="0.2">D</text><text x="580.7" y="676" font-family="'Liberation Sans', sans-serif" font-size="10.5px" font-weight="bold" text-anchor="middle" letter-spacing="0" fill="#000" >03</text><text x="597" y="676" font-family="'Liberation Sans', sans-serif" font-size="10px" font-weight="normal" text-anchor="middle" letter-spacing="0" fill="#000"  stroke="#000" stroke-width="0.2">F</text><text x="611" y="676" font-family="'Liberation Sans', sans-serif" font-size="10px" font-weight="normal" text-anchor="middle" letter-spacing="0" fill="#000"  stroke="#000" stroke-width="0.2">M</text><text x="629" y="676" font-family="'Liberation Sans', sans-serif" font-size="10px" font-weight="normal" text-anchor="middle" letter-spacing="0" fill="#000"  stroke="#000" stroke-width="0.2">A</text><text x="643" y="676" font-family="'Liberation Sans', sans-serif" font-size="10px" font-weight="normal" text-anchor="middle" letter-spacing="0" fill="#000"  stroke="#000" stroke-width="0.2">M</text><text x="658" y="676" font-family="'Liberation Sans', sans-serif" font-size="10px" font-weight="normal" text-anchor="middle" letter-spacing="0" fill="#000"  stroke="#000" stroke-width="0.2">J</text><text x="676" y="676" font-family="'Liberation Sans', sans-serif" font-size="10px" font-weight="normal" text-anchor="middle" letter-spacing="0" fill="#000"  stroke="#000" stroke-width="0.2">J</text><text x="690" y="676" font-family="'Liberation Sans', sans-serif" font-size="10px" font-weight="normal" text-anchor="middle" letter-spacing="0" fill="#000"  stroke="#000" stroke-width="0.2">A</text><text x="704" y="676" font-family="'Liberation Sans', sans-serif" font-size="10px" font-weight="normal" text-anchor="middle" letter-spacing="0" fill="#000"  stroke="#000" stroke-width="0.2">S</text><text x="722" y="676" font-family="'Liberation Sans', sans-serif" font-size="10px" font-weight="normal" text-anchor="middle" letter-spacing="0" fill="#000"  stroke="#000" stroke-width="0.2">O</text><text x="737" y="676" font-family="'Liberation Sans', sans-serif" font-size="10px" font-weight="normal" text-anchor="middle" letter-spacing="0" fill="#000"  stroke="#000" stroke-width="0.2">N</text><text x="751" y="676" font-family="'Liberation Sans', sans-serif" font-size="10px" font-weight="normal" text-anchor="middle" letter-spacing="0" fill="#000"  stroke="#000" stroke-width="0.2">D</text><text x="767.7" y="676" font-family="'Liberation Sans', sans-serif" font-size="10.5px" font-weight="bold" text-anchor="middle" letter-spacing="0" fill="#000" >04</text><text x="783" y="676" font-family="'Liberation Sans', sans-serif" font-size="10px" font-weight="normal" text-anchor="middle" letter-spacing="0" fill="#000"  stroke="#000" stroke-width="0.2">F</text><text x="798" y="676" font-family="'Liberation Sans', sans-serif" font-size="10px" font-weight="normal" text-anchor="middle" letter-spacing="0" fill="#000"  stroke="#000" stroke-width="0.2">M</text><text x="816" y="676" font-family="'Liberation Sans', sans-serif" font-size="10px" font-weight="normal" text-anchor="middle" letter-spacing="0" fill="#000"  stroke="#000" stroke-width="0.2">A</text><text x="830" y="676" font-family="'Liberation Sans', sans-serif" font-size="10px" font-weight="normal" text-anchor="middle" letter-spacing="0" fill="#000"  stroke="#000" stroke-width="0.2">M</text><text x="848" y="676" font-family="'Liberation Sans', sans-serif" font-size="10px" font-weight="normal" text-anchor="middle" letter-spacing="0" fill="#000"  stroke="#000" stroke-width="0.2">J</text><text x="862" y="676" font-family="'Liberation Sans', sans-serif" font-size="10px" font-weight="normal" text-anchor="middle" letter-spacing="0" fill="#000"  stroke="#000" stroke-width="0.2">J</text><text x="877" y="676" font-family="'Liberation Sans', sans-serif" font-size="10px" font-weight="normal" text-anchor="middle" letter-spacing="0" fill="#000"  stroke="#000" stroke-width="0.2">A</text><text x="895" y="676" font-family="'Liberation Sans', sans-serif" font-size="10px" font-weight="normal" text-anchor="middle" letter-spacing="0" fill="#000"  stroke="#000" stroke-width="0.2">S</text><text x="909" y="676" font-family="'Liberation Sans', sans-serif" font-size="10px" font-weight="normal" text-anchor="middle" letter-spacing="0" fill="#000"  stroke="#000" stroke-width="0.2">O</text><text x="924" y="676" font-family="'Liberation Sans', sans-serif" font-size="10px" font-weight="normal" text-anchor="middle" letter-spacing="0" fill="#000"  stroke="#000" stroke-width="0.2">N</text><text x="941" y="676" font-family="'Liberation Sans', sans-serif" font-size="10px" font-weight="normal" text-anchor="middle" letter-spacing="0" fill="#000"  stroke="#000" stroke-width="0.2">D</text><text x="954.7" y="676" font-family="'Liberation Sans', sans-serif" font-size="10.5px" font-weight="bold" text-anchor="middle" letter-spacing="0" fill="#000" >05</text><text x="974" y="676" font-family="'Liberation Sans', sans-serif" font-size="10px" font-weight="normal" text-anchor="middle" letter-spacing="0" fill="#000"  stroke="#000" stroke-width="0.2">F</text><text x="988" y="676" font-family="'Liberation Sans', sans-serif" font-size="10px" font-weight="normal" text-anchor="middle" letter-spacing="0" fill="#000"  stroke="#000" stroke-width="0.2">M</text><text x="1003" y="676" font-family="'Liberation Sans', sans-serif" font-size="10px" font-weight="normal" text-anchor="middle" letter-spacing="0" fill="#000"  stroke="#000" stroke-width="0.2">A</text><text x="1017" y="676" font-family="'Liberation Sans', sans-serif" font-size="10px" font-weight="normal" text-anchor="middle" letter-spacing="0" fill="#000"  stroke="#000" stroke-width="0.2">M</text><text x="1035" y="676" font-family="'Liberation Sans', sans-serif" font-size="10px" font-weight="normal" text-anchor="middle" letter-spacing="0" fill="#000"  stroke="#000" stroke-width="0.2">J</text><text x="1049" y="676" font-family="'Liberation Sans', sans-serif" font-size="10px" font-weight="normal" text-anchor="middle" letter-spacing="0" fill="#000"  stroke="#000" stroke-width="0.2">J</text><text x="1064" y="676" font-family="'Liberation Sans', sans-serif" font-size="10px" font-weight="normal" text-anchor="middle" letter-spacing="0" fill="#000"  stroke="#000" stroke-width="0.2">A</text><text x="1082" y="676" font-family="'Liberation Sans', sans-serif" font-size="10px" font-weight="normal" text-anchor="middle" letter-spacing="0" fill="#000"  stroke="#000" stroke-width="0.2">S</text><text x="1096" y="676" font-family="'Liberation Sans', sans-serif" font-size="10px" font-weight="normal" text-anchor="middle" letter-spacing="0" fill="#000"  stroke="#000" stroke-width="0.2">O</text><text x="1114" y="676" font-family="'Liberation Sans', sans-serif" font-size="10px" font-weight="normal" text-anchor="middle" letter-spacing="0" fill="#000"  stroke="#000" stroke-width="0.2">N</text><text x="1128" y="676" font-family="'Liberation Sans', sans-serif" font-size="10px" font-weight="normal" text-anchor="middle" letter-spacing="0" fill="#000"  stroke="#000" stroke-width="0.2">D</text><text x="1141.7" y="676" font-family="'Liberation Sans', sans-serif" font-size="10.5px" font-weight="bold" text-anchor="middle" letter-spacing="0" fill="#000" >06</text><text x="1161" y="676" font-family="'Liberation Sans', sans-serif" font-size="10px" font-weight="normal" text-anchor="middle" letter-spacing="0" fill="#000"  stroke="#000" stroke-width="0.2">F</text><text x="1175" y="676" font-family="'Liberation Sans', sans-serif" font-size="10px" font-weight="normal" text-anchor="middle" letter-spacing="0" fill="#000"  stroke="#000" stroke-width="0.2">M</text><text x="1189" y="676" font-family="'Liberation Sans', sans-serif" font-size="10px" font-weight="normal" text-anchor="middle" letter-spacing="0" fill="#000"  stroke="#000" stroke-width="0.2">A</text><text x="1204" y="676" font-family="'Liberation Sans', sans-serif" font-size="10px" font-weight="normal" text-anchor="middle" letter-spacing="0" fill="#000"  stroke="#000" stroke-width="0.2">M</text><text x="1222" y="676" font-family="'Liberation Sans', sans-serif" font-size="10px" font-weight="normal" text-anchor="middle" letter-spacing="0" fill="#000"  stroke="#000" stroke-width="0.2">J</text><text x="1236" y="676" font-family="'Liberation Sans', sans-serif" font-size="10px" font-weight="normal" text-anchor="middle" letter-spacing="0" fill="#000"  stroke="#000" stroke-width="0.2">J</text><text x="1254" y="676" font-family="'Liberation Sans', sans-serif" font-size="10px" font-weight="normal" text-anchor="middle" letter-spacing="0" fill="#000"  stroke="#000" stroke-width="0.2">A</text><text x="1268" y="676" font-family="'Liberation Sans', sans-serif" font-size="10px" font-weight="normal" text-anchor="middle" letter-spacing="0" fill="#000"  stroke="#000" stroke-width="0.2">S</text><text x="1283" y="676" font-family="'Liberation Sans', sans-serif" font-size="10px" font-weight="normal" text-anchor="middle" letter-spacing="0" fill="#000"  stroke="#000" stroke-width="0.2">O</text><text x="1301" y="676" font-family="'Liberation Sans', sans-serif" font-size="10px" font-weight="normal" text-anchor="middle" letter-spacing="0" fill="#000"  stroke="#000" stroke-width="0.2">N</text><text x="1315" y="676" font-family="'Liberation Sans', sans-serif" font-size="10px" font-weight="normal" text-anchor="middle" letter-spacing="0" fill="#000"  stroke="#000" stroke-width="0.2">D</text><text x="1327.7" y="676" font-family="'Liberation Sans', sans-serif" font-size="10.5px" font-weight="bold" text-anchor="middle" letter-spacing="0" fill="#000" >07</text><text x="1347" y="676" font-family="'Liberation Sans', sans-serif" font-size="10px" font-weight="normal" text-anchor="middle" letter-spacing="0" fill="#000"  stroke="#000" stroke-width="0.2">F</text><text x="1362" y="676" font-family="'Liberation Sans', sans-serif" font-size="10px" font-weight="normal" text-anchor="middle" letter-spacing="0" fill="#000"  stroke="#000" stroke-width="0.2">M</text><text x="1376" y="676" font-family="'Liberation Sans', sans-serif" font-size="10px" font-weight="normal" text-anchor="middle" letter-spacing="0" fill="#000"  stroke="#000" stroke-width="0.2">A</text><text x="1394" y="676" font-family="'Liberation Sans', sans-serif" font-size="10px" font-weight="normal" text-anchor="middle" letter-spacing="0" fill="#000"  stroke="#000" stroke-width="0.2">M</text><text x="1408" y="676" font-family="'Liberation Sans', sans-serif" font-size="10px" font-weight="normal" text-anchor="middle" letter-spacing="0" fill="#000"  stroke="#000" stroke-width="0.2">J</text><text x="1423" y="676" font-family="'Liberation Sans', sans-serif" font-size="10px" font-weight="normal" text-anchor="middle" letter-spacing="0" fill="#000"  stroke="#000" stroke-width="0.2">J</text><text x="1441" y="676" font-family="'Liberation Sans', sans-serif" font-size="10px" font-weight="normal" text-anchor="middle" letter-spacing="0" fill="#000"  stroke="#000" stroke-width="0.2">A</text><text x="1455" y="676" font-family="'Liberation Sans', sans-serif" font-size="10px" font-weight="normal" text-anchor="middle" letter-spacing="0" fill="#000"  stroke="#000" stroke-width="0.2">S</text><text x="1469" y="676" font-family="'Liberation Sans', sans-serif" font-size="10px" font-weight="normal" text-anchor="middle" letter-spacing="0" fill="#000"  stroke="#000" stroke-width="0.2">O</text><text x="1487" y="676" font-family="'Liberation Sans', sans-serif" font-size="10px" font-weight="normal" text-anchor="middle" letter-spacing="0" fill="#000"  stroke="#000" stroke-width="0.2">N</text><text x="1502" y="676" font-family="'Liberation Sans', sans-serif" font-size="10px" font-weight="normal" text-anchor="middle" letter-spacing="0" fill="#000"  stroke="#000" stroke-width="0.2">D</text><text x="16.3" y="14.2" font-family="'Liberation Sans', sans-serif" font-size="14px" font-weight="bold" text-anchor="start" letter-spacing="0" fill="#000" textLength="33.4" lengthAdjust="spacingAndGlyphs">$SPX</text><text x="53.4" y="12.7" font-family="'Liberation Sans', sans-serif" font-size="10.5px" font-weight="normal" text-anchor="start" letter-spacing="0.04" fill="#000"  stroke="#000" stroke-width="0.2">S&amp;P 500 Large Cap Index</text><text x="181.2" y="12.7" font-family="'Liberation Sans', sans-serif" font-size="9px" font-weight="normal" text-anchor="start" letter-spacing="0.7" fill="#000"  stroke="#000" stroke-width="0.2">INDX</text><text x="15.5" y="25.9" font-family="'Liberation Sans', sans-serif" font-size="10px" font-weight="normal" text-anchor="start" letter-spacing="0.3" fill="#000"  stroke="#000" stroke-width="0.2">31-Dec-2007</text><text x="31.2" y="38.8" font-family="'DejaVu Sans', sans-serif" font-size="10px" font-weight="normal" text-anchor="start" letter-spacing="0.85" fill="#000" >$SPX (Weekly) 1468.36 (4 Jan)</text><text x="1521.5" y="13" font-family="'Liberation Sans', sans-serif" font-size="10.5px" font-weight="normal" text-anchor="end" letter-spacing="0.15" fill="#4a4a4a" >©StockCharts.com</text><text x="1038.5" y="25.9" font-family="'Liberation Sans', sans-serif" font-size="11px" font-weight="bold" text-anchor="start" letter-spacing="0.1" fill="#000" >Open</text><text x="1070.8" y="25.9" font-family="'Liberation Sans', sans-serif" font-size="10px" font-weight="normal" text-anchor="start" letter-spacing="0.3" fill="#000"  stroke="#000" stroke-width="0.2">1475.25</text><text x="1115" y="25.9" font-family="'Liberation Sans', sans-serif" font-size="11px" font-weight="bold" text-anchor="start" letter-spacing="0.1" fill="#000" >High</text><text x="1142.9" y="25.9" font-family="'Liberation Sans', sans-serif" font-size="10px" font-weight="normal" text-anchor="start" letter-spacing="0.3" fill="#000"  stroke="#000" stroke-width="0.2">1475.83</text><text x="1187.2" y="25.9" font-family="'Liberation Sans', sans-serif" font-size="11px" font-weight="bold" text-anchor="start" letter-spacing="0.1" fill="#000" >Low</text><text x="1214.7" y="25.9" font-family="'Liberation Sans', sans-serif" font-size="10px" font-weight="normal" text-anchor="start" letter-spacing="0.3" fill="#000"  stroke="#000" stroke-width="0.2">1465.13</text><text x="1259.3" y="25.9" font-family="'Liberation Sans', sans-serif" font-size="11px" font-weight="bold" text-anchor="start" letter-spacing="0.1" fill="#000" >Close</text><text x="1294.7" y="25.9" font-family="'Liberation Sans', sans-serif" font-size="10px" font-weight="normal" text-anchor="start" letter-spacing="0.3" fill="#000"  stroke="#000" stroke-width="0.2">1468.36</text><text x="1339.9" y="25.9" font-family="'Liberation Sans', sans-serif" font-size="11px" font-weight="bold" text-anchor="start" letter-spacing="0.5" fill="#000" >Volume</text><text x="1386.2" y="25.9" font-family="'Liberation Sans', sans-serif" font-size="10px" font-weight="normal" text-anchor="start" letter-spacing="0.3" fill="#000"  stroke="#000" stroke-width="0.2">1.8B</text><text x="1413.2" y="25.9" font-family="'Liberation Sans', sans-serif" font-size="11px" font-weight="bold" text-anchor="start" letter-spacing="0.1" fill="#000" >Chg</text><text x="1439" y="25.9" font-family="'Liberation Sans', sans-serif" font-size="10px" font-weight="normal" text-anchor="start" letter-spacing="0.25" fill="#000"  stroke="#000" stroke-width="0.2">-10.13 (-0.69%)</text></g></svg></body></html>
